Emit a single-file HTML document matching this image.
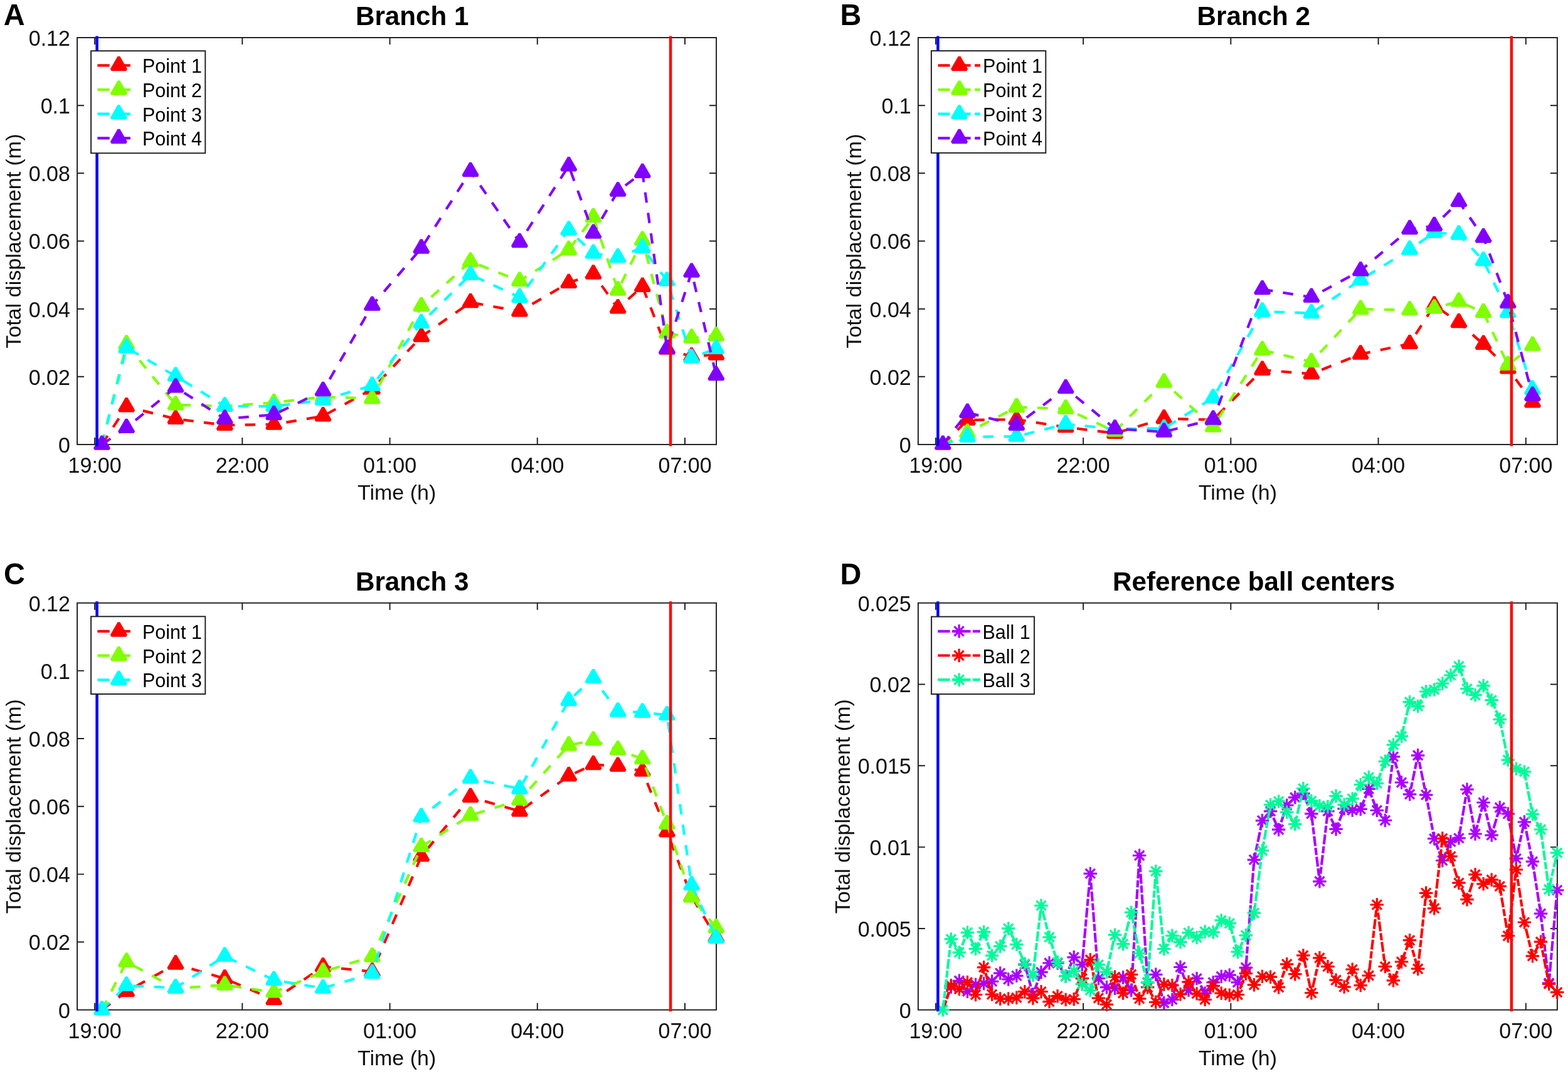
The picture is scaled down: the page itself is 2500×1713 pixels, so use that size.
<!DOCTYPE html>
<html lang="en"><head><meta charset="utf-8"><title>Total displacement of branch points and reference ball centers</title>
<style>html,body{margin:0;padding:0;background:#fff}body{width:2500px;height:1713px;overflow:hidden}svg{display:block}text{font-family:'Liberation Sans', sans-serif}</style>
</head><body>
<svg width="2500" height="1713" viewBox="0 0 2500 1713" role="img" aria-label="Total displacement over time for branch points and reference ball centers">
<rect width="2500" height="1713" fill="#fff"/>
<g id="panel-A">
<rect x="123.1" y="60" width="1019" height="649" fill="#fff" stroke="#202020" stroke-width="1.95"/>
<path d="M151.1 709v-11M151.1 60v11M386.33 709v-11M386.33 60v11M621.56 709v-11M621.56 60v11M856.79 709v-11M856.79 60v11M1092.02 709v-11M1092.02 60v11M123.1 600.83h11M1142.1 600.83h-11M123.1 492.67h11M1142.1 492.67h-11M123.1 384.5h11M1142.1 384.5h-11M123.1 276.33h11M1142.1 276.33h-11M123.1 168.17h11M1142.1 168.17h-11" stroke="#202020" stroke-width="1.95" fill="none"/>
<g font-size="34.0" fill="#111111">
<text transform="translate(151.1 754.2) scale(1 1.04)" text-anchor="middle">19:00</text>
<text transform="translate(386.33 754.2) scale(1 1.04)" text-anchor="middle">22:00</text>
<text transform="translate(621.56 754.2) scale(1 1.04)" text-anchor="middle">01:00</text>
<text transform="translate(856.79 754.2) scale(1 1.04)" text-anchor="middle">04:00</text>
<text transform="translate(1092.02 754.2) scale(1 1.04)" text-anchor="middle">07:00</text>
<text transform="translate(111.9 721.9) scale(1 1.04)" text-anchor="end">0</text>
<text transform="translate(111.9 613.73) scale(1 1.04)" text-anchor="end">0.02</text>
<text transform="translate(111.9 505.57) scale(1 1.04)" text-anchor="end">0.04</text>
<text transform="translate(111.9 397.4) scale(1 1.04)" text-anchor="end">0.06</text>
<text transform="translate(111.9 289.23) scale(1 1.04)" text-anchor="end">0.08</text>
<text transform="translate(111.9 181.07) scale(1 1.04)" text-anchor="end">0.1</text>
<text transform="translate(111.9 72.9) scale(1 1.04)" text-anchor="end">0.12</text>
<text transform="translate(632.6 797.4)" text-anchor="middle">Time (h)</text>
<text transform="translate(32.6 384.5) rotate(-90)" text-anchor="middle">Total displacement (m)</text>
</g>
<text transform="translate(657.2 40) scale(1 1.02)" text-anchor="middle" font-size="42.2" font-weight="bold" fill="#000">Branch 1</text>
<polyline points="162.5,709 201.67,648.6 280.02,668.1 358.37,678.1 436.72,677 515.07,663.6 593.41,620.6 671.76,536.9 750.11,482.3 828.46,496.6 906.81,451.2 945.98,436.9 985.15,491.6 1024.33,457.1 1063.5,557 1102.68,568.5 1141.85,565.8" fill="none" stroke="#ff0000" stroke-width="4.17" stroke-dasharray="16.6 16.4"/>
<path d="M201.67 635.1L213.37 655.35L189.97 655.35Z" fill="#ff0000" stroke="#ff0000" stroke-width="4.17" stroke-linejoin="bevel"/><path d="M280.02 654.6L291.72 674.85L268.32 674.85Z" fill="#ff0000" stroke="#ff0000" stroke-width="4.17" stroke-linejoin="bevel"/><path d="M358.37 664.6L370.07 684.85L346.67 684.85Z" fill="#ff0000" stroke="#ff0000" stroke-width="4.17" stroke-linejoin="bevel"/><path d="M436.72 663.5L448.42 683.75L425.02 683.75Z" fill="#ff0000" stroke="#ff0000" stroke-width="4.17" stroke-linejoin="bevel"/><path d="M515.07 650.1L526.77 670.35L503.37 670.35Z" fill="#ff0000" stroke="#ff0000" stroke-width="4.17" stroke-linejoin="bevel"/><path d="M593.41 607.1L605.11 627.35L581.71 627.35Z" fill="#ff0000" stroke="#ff0000" stroke-width="4.17" stroke-linejoin="bevel"/><path d="M671.76 523.4L683.46 543.65L660.06 543.65Z" fill="#ff0000" stroke="#ff0000" stroke-width="4.17" stroke-linejoin="bevel"/><path d="M750.11 468.8L761.81 489.05L738.41 489.05Z" fill="#ff0000" stroke="#ff0000" stroke-width="4.17" stroke-linejoin="bevel"/><path d="M828.46 483.1L840.16 503.35L816.76 503.35Z" fill="#ff0000" stroke="#ff0000" stroke-width="4.17" stroke-linejoin="bevel"/><path d="M906.81 437.7L918.51 457.95L895.11 457.95Z" fill="#ff0000" stroke="#ff0000" stroke-width="4.17" stroke-linejoin="bevel"/><path d="M945.98 423.4L957.68 443.65L934.28 443.65Z" fill="#ff0000" stroke="#ff0000" stroke-width="4.17" stroke-linejoin="bevel"/><path d="M985.15 478.1L996.85 498.35L973.45 498.35Z" fill="#ff0000" stroke="#ff0000" stroke-width="4.17" stroke-linejoin="bevel"/><path d="M1024.33 443.6L1036.03 463.85L1012.63 463.85Z" fill="#ff0000" stroke="#ff0000" stroke-width="4.17" stroke-linejoin="bevel"/><path d="M1063.5 543.5L1075.2 563.75L1051.8 563.75Z" fill="#ff0000" stroke="#ff0000" stroke-width="4.17" stroke-linejoin="bevel"/><path d="M1102.68 555L1114.38 575.25L1090.98 575.25Z" fill="#ff0000" stroke="#ff0000" stroke-width="4.17" stroke-linejoin="bevel"/><path d="M1141.85 552.3L1153.55 572.55L1130.15 572.55Z" fill="#ff0000" stroke="#ff0000" stroke-width="4.17" stroke-linejoin="bevel"/>
<polyline points="162.5,709 201.67,548.9 280.02,645.7 358.37,648 436.72,642.2 515.07,633 593.41,635.6 671.76,488.3 750.11,417.1 828.46,448.1 906.81,398.4 945.98,346.3 985.15,462.9 1024.33,383.1 1063.5,531.1 1102.68,538.9 1141.85,535.6" fill="none" stroke="#80ff00" stroke-width="4.17" stroke-dasharray="16.6 16.4"/>
<path d="M201.67 535.4L213.37 555.65L189.97 555.65Z" fill="#80ff00" stroke="#80ff00" stroke-width="4.17" stroke-linejoin="bevel"/><path d="M280.02 632.2L291.72 652.45L268.32 652.45Z" fill="#80ff00" stroke="#80ff00" stroke-width="4.17" stroke-linejoin="bevel"/><path d="M358.37 634.5L370.07 654.75L346.67 654.75Z" fill="#80ff00" stroke="#80ff00" stroke-width="4.17" stroke-linejoin="bevel"/><path d="M436.72 628.7L448.42 648.95L425.02 648.95Z" fill="#80ff00" stroke="#80ff00" stroke-width="4.17" stroke-linejoin="bevel"/><path d="M515.07 619.5L526.77 639.75L503.37 639.75Z" fill="#80ff00" stroke="#80ff00" stroke-width="4.17" stroke-linejoin="bevel"/><path d="M593.41 622.1L605.11 642.35L581.71 642.35Z" fill="#80ff00" stroke="#80ff00" stroke-width="4.17" stroke-linejoin="bevel"/><path d="M671.76 474.8L683.46 495.05L660.06 495.05Z" fill="#80ff00" stroke="#80ff00" stroke-width="4.17" stroke-linejoin="bevel"/><path d="M750.11 403.6L761.81 423.85L738.41 423.85Z" fill="#80ff00" stroke="#80ff00" stroke-width="4.17" stroke-linejoin="bevel"/><path d="M828.46 434.6L840.16 454.85L816.76 454.85Z" fill="#80ff00" stroke="#80ff00" stroke-width="4.17" stroke-linejoin="bevel"/><path d="M906.81 384.9L918.51 405.15L895.11 405.15Z" fill="#80ff00" stroke="#80ff00" stroke-width="4.17" stroke-linejoin="bevel"/><path d="M945.98 332.8L957.68 353.05L934.28 353.05Z" fill="#80ff00" stroke="#80ff00" stroke-width="4.17" stroke-linejoin="bevel"/><path d="M985.15 449.4L996.85 469.65L973.45 469.65Z" fill="#80ff00" stroke="#80ff00" stroke-width="4.17" stroke-linejoin="bevel"/><path d="M1024.33 369.6L1036.03 389.85L1012.63 389.85Z" fill="#80ff00" stroke="#80ff00" stroke-width="4.17" stroke-linejoin="bevel"/><path d="M1063.5 517.6L1075.2 537.85L1051.8 537.85Z" fill="#80ff00" stroke="#80ff00" stroke-width="4.17" stroke-linejoin="bevel"/><path d="M1102.68 525.4L1114.38 545.65L1090.98 545.65Z" fill="#80ff00" stroke="#80ff00" stroke-width="4.17" stroke-linejoin="bevel"/><path d="M1141.85 522.1L1153.55 542.35L1130.15 542.35Z" fill="#80ff00" stroke="#80ff00" stroke-width="4.17" stroke-linejoin="bevel"/>
<polyline points="162.5,709 201.67,554.6 280.02,599.8 358.37,647.9 436.72,648.2 515.07,637.9 593.41,615 671.76,515.1 750.11,438 828.46,474.3 906.81,366.8 945.98,404 985.15,410.5 1024.33,395 1063.5,447.7 1102.68,570.7 1141.85,556.1" fill="none" stroke="#00ffff" stroke-width="4.17" stroke-dasharray="16.6 16.4"/>
<path d="M201.67 541.1L213.37 561.35L189.97 561.35Z" fill="#00ffff" stroke="#00ffff" stroke-width="4.17" stroke-linejoin="bevel"/><path d="M280.02 586.3L291.72 606.55L268.32 606.55Z" fill="#00ffff" stroke="#00ffff" stroke-width="4.17" stroke-linejoin="bevel"/><path d="M358.37 634.4L370.07 654.65L346.67 654.65Z" fill="#00ffff" stroke="#00ffff" stroke-width="4.17" stroke-linejoin="bevel"/><path d="M436.72 634.7L448.42 654.95L425.02 654.95Z" fill="#00ffff" stroke="#00ffff" stroke-width="4.17" stroke-linejoin="bevel"/><path d="M515.07 624.4L526.77 644.65L503.37 644.65Z" fill="#00ffff" stroke="#00ffff" stroke-width="4.17" stroke-linejoin="bevel"/><path d="M593.41 601.5L605.11 621.75L581.71 621.75Z" fill="#00ffff" stroke="#00ffff" stroke-width="4.17" stroke-linejoin="bevel"/><path d="M671.76 501.6L683.46 521.85L660.06 521.85Z" fill="#00ffff" stroke="#00ffff" stroke-width="4.17" stroke-linejoin="bevel"/><path d="M750.11 424.5L761.81 444.75L738.41 444.75Z" fill="#00ffff" stroke="#00ffff" stroke-width="4.17" stroke-linejoin="bevel"/><path d="M828.46 460.8L840.16 481.05L816.76 481.05Z" fill="#00ffff" stroke="#00ffff" stroke-width="4.17" stroke-linejoin="bevel"/><path d="M906.81 353.3L918.51 373.55L895.11 373.55Z" fill="#00ffff" stroke="#00ffff" stroke-width="4.17" stroke-linejoin="bevel"/><path d="M945.98 390.5L957.68 410.75L934.28 410.75Z" fill="#00ffff" stroke="#00ffff" stroke-width="4.17" stroke-linejoin="bevel"/><path d="M985.15 397L996.85 417.25L973.45 417.25Z" fill="#00ffff" stroke="#00ffff" stroke-width="4.17" stroke-linejoin="bevel"/><path d="M1024.33 381.5L1036.03 401.75L1012.63 401.75Z" fill="#00ffff" stroke="#00ffff" stroke-width="4.17" stroke-linejoin="bevel"/><path d="M1063.5 434.2L1075.2 454.45L1051.8 454.45Z" fill="#00ffff" stroke="#00ffff" stroke-width="4.17" stroke-linejoin="bevel"/><path d="M1102.68 557.2L1114.38 577.45L1090.98 577.45Z" fill="#00ffff" stroke="#00ffff" stroke-width="4.17" stroke-linejoin="bevel"/><path d="M1141.85 542.6L1153.55 562.85L1130.15 562.85Z" fill="#00ffff" stroke="#00ffff" stroke-width="4.17" stroke-linejoin="bevel"/>
<polyline points="162.5,709 201.67,682.2 280.02,617.7 358.37,668.1 436.72,661.4 515.07,623.3 593.41,487 671.76,395.9 750.11,273.3 828.46,386.4 906.81,264.6 945.98,372 985.15,304.9 1024.33,275.3 1063.5,556.1 1102.68,434 1141.85,598.3" fill="none" stroke="#8000ff" stroke-width="4.17" stroke-dasharray="16.6 16.4"/>
<path d="M162.5 695.5L174.2 715.75L150.8 715.75Z" fill="#8000ff" stroke="#8000ff" stroke-width="4.17" stroke-linejoin="bevel"/><path d="M201.67 668.7L213.37 688.95L189.97 688.95Z" fill="#8000ff" stroke="#8000ff" stroke-width="4.17" stroke-linejoin="bevel"/><path d="M280.02 604.2L291.72 624.45L268.32 624.45Z" fill="#8000ff" stroke="#8000ff" stroke-width="4.17" stroke-linejoin="bevel"/><path d="M358.37 654.6L370.07 674.85L346.67 674.85Z" fill="#8000ff" stroke="#8000ff" stroke-width="4.17" stroke-linejoin="bevel"/><path d="M436.72 647.9L448.42 668.15L425.02 668.15Z" fill="#8000ff" stroke="#8000ff" stroke-width="4.17" stroke-linejoin="bevel"/><path d="M515.07 609.8L526.77 630.05L503.37 630.05Z" fill="#8000ff" stroke="#8000ff" stroke-width="4.17" stroke-linejoin="bevel"/><path d="M593.41 473.5L605.11 493.75L581.71 493.75Z" fill="#8000ff" stroke="#8000ff" stroke-width="4.17" stroke-linejoin="bevel"/><path d="M671.76 382.4L683.46 402.65L660.06 402.65Z" fill="#8000ff" stroke="#8000ff" stroke-width="4.17" stroke-linejoin="bevel"/><path d="M750.11 259.8L761.81 280.05L738.41 280.05Z" fill="#8000ff" stroke="#8000ff" stroke-width="4.17" stroke-linejoin="bevel"/><path d="M828.46 372.9L840.16 393.15L816.76 393.15Z" fill="#8000ff" stroke="#8000ff" stroke-width="4.17" stroke-linejoin="bevel"/><path d="M906.81 251.1L918.51 271.35L895.11 271.35Z" fill="#8000ff" stroke="#8000ff" stroke-width="4.17" stroke-linejoin="bevel"/><path d="M945.98 358.5L957.68 378.75L934.28 378.75Z" fill="#8000ff" stroke="#8000ff" stroke-width="4.17" stroke-linejoin="bevel"/><path d="M985.15 291.4L996.85 311.65L973.45 311.65Z" fill="#8000ff" stroke="#8000ff" stroke-width="4.17" stroke-linejoin="bevel"/><path d="M1024.33 261.8L1036.03 282.05L1012.63 282.05Z" fill="#8000ff" stroke="#8000ff" stroke-width="4.17" stroke-linejoin="bevel"/><path d="M1063.5 542.6L1075.2 562.85L1051.8 562.85Z" fill="#8000ff" stroke="#8000ff" stroke-width="4.17" stroke-linejoin="bevel"/><path d="M1102.68 420.5L1114.38 440.75L1090.98 440.75Z" fill="#8000ff" stroke="#8000ff" stroke-width="4.17" stroke-linejoin="bevel"/><path d="M1141.85 584.8L1153.55 605.05L1130.15 605.05Z" fill="#8000ff" stroke="#8000ff" stroke-width="4.17" stroke-linejoin="bevel"/>
<path d="M154.6 57.5V711.6" stroke="#0000ff" stroke-width="4.5" fill="none"/>
<path d="M1069.1 57.5V711.6" stroke="#ff0000" stroke-width="4.5" fill="none"/>
<rect x="145.1" y="81.2" width="182.2" height="163.1" fill="#fff" stroke="#202020" stroke-width="1.95"/>
<path d="M155.4 104.3H174.7M188.6 104.3H207.9" stroke="#ff0000" stroke-width="4.17" fill="none"/>
<path d="M189.4 90.8L201.1 111.05L177.7 111.05Z" fill="#ff0000" stroke="#ff0000" stroke-width="4.17" stroke-linejoin="bevel"/>
<text transform="translate(226.9 116.3)" font-size="30.5" fill="#000">Point 1</text>
<path d="M155.4 143H174.7M188.6 143H207.9" stroke="#80ff00" stroke-width="4.17" fill="none"/>
<path d="M189.4 129.5L201.1 149.75L177.7 149.75Z" fill="#80ff00" stroke="#80ff00" stroke-width="4.17" stroke-linejoin="bevel"/>
<text transform="translate(226.9 155)" font-size="30.5" fill="#000">Point 2</text>
<path d="M155.4 181.7H174.7M188.6 181.7H207.9" stroke="#00ffff" stroke-width="4.17" fill="none"/>
<path d="M189.4 168.2L201.1 188.45L177.7 188.45Z" fill="#00ffff" stroke="#00ffff" stroke-width="4.17" stroke-linejoin="bevel"/>
<text transform="translate(226.9 193.7)" font-size="30.5" fill="#000">Point 3</text>
<path d="M155.4 220.4H174.7M188.6 220.4H207.9" stroke="#8000ff" stroke-width="4.17" fill="none"/>
<path d="M189.4 206.9L201.1 227.15L177.7 227.15Z" fill="#8000ff" stroke="#8000ff" stroke-width="4.17" stroke-linejoin="bevel"/>
<text transform="translate(226.9 232.4)" font-size="30.5" fill="#000">Point 4</text>
<text transform="translate(5.7 39.8) scale(1 1.04)" font-size="46.9" font-weight="bold" fill="#000">A</text>
</g>
<g id="panel-B">
<rect x="1463.9" y="60" width="1019" height="649" fill="#fff" stroke="#202020" stroke-width="1.95"/>
<path d="M1491.9 709v-11M1491.9 60v11M1727.13 709v-11M1727.13 60v11M1962.36 709v-11M1962.36 60v11M2197.59 709v-11M2197.59 60v11M2432.82 709v-11M2432.82 60v11M1463.9 600.83h11M2482.9 600.83h-11M1463.9 492.67h11M2482.9 492.67h-11M1463.9 384.5h11M2482.9 384.5h-11M1463.9 276.33h11M2482.9 276.33h-11M1463.9 168.17h11M2482.9 168.17h-11" stroke="#202020" stroke-width="1.95" fill="none"/>
<g font-size="34.0" fill="#111111">
<text transform="translate(1491.9 754.2) scale(1 1.04)" text-anchor="middle">19:00</text>
<text transform="translate(1727.13 754.2) scale(1 1.04)" text-anchor="middle">22:00</text>
<text transform="translate(1962.36 754.2) scale(1 1.04)" text-anchor="middle">01:00</text>
<text transform="translate(2197.59 754.2) scale(1 1.04)" text-anchor="middle">04:00</text>
<text transform="translate(2432.82 754.2) scale(1 1.04)" text-anchor="middle">07:00</text>
<text transform="translate(1452.7 721.9) scale(1 1.04)" text-anchor="end">0</text>
<text transform="translate(1452.7 613.73) scale(1 1.04)" text-anchor="end">0.02</text>
<text transform="translate(1452.7 505.57) scale(1 1.04)" text-anchor="end">0.04</text>
<text transform="translate(1452.7 397.4) scale(1 1.04)" text-anchor="end">0.06</text>
<text transform="translate(1452.7 289.23) scale(1 1.04)" text-anchor="end">0.08</text>
<text transform="translate(1452.7 181.07) scale(1 1.04)" text-anchor="end">0.1</text>
<text transform="translate(1452.7 72.9) scale(1 1.04)" text-anchor="end">0.12</text>
<text transform="translate(1973.4 797.4)" text-anchor="middle">Time (h)</text>
<text transform="translate(1373.4 384.5) rotate(-90)" text-anchor="middle">Total displacement (m)</text>
</g>
<text transform="translate(1998.8 40) scale(1 1.02)" text-anchor="middle" font-size="42.2" font-weight="bold" fill="#000">Branch 2</text>
<polyline points="1503.3,709 1542.47,669.9 1620.82,669.1 1699.17,681.3 1777.52,691.1 1855.87,667.6 1934.21,669.6 2012.56,590.1 2090.91,596.3 2169.26,564.9 2247.61,548.2 2286.78,486.8 2325.95,514.3 2365.13,549.1 2404.3,587.6 2443.48,641.6" fill="none" stroke="#ff0000" stroke-width="4.17" stroke-dasharray="16.6 16.4"/>
<path d="M1542.47 656.4L1554.17 676.65L1530.77 676.65Z" fill="#ff0000" stroke="#ff0000" stroke-width="4.17" stroke-linejoin="bevel"/><path d="M1620.82 655.6L1632.52 675.85L1609.12 675.85Z" fill="#ff0000" stroke="#ff0000" stroke-width="4.17" stroke-linejoin="bevel"/><path d="M1699.17 667.8L1710.87 688.05L1687.47 688.05Z" fill="#ff0000" stroke="#ff0000" stroke-width="4.17" stroke-linejoin="bevel"/><path d="M1777.52 677.6L1789.22 697.85L1765.82 697.85Z" fill="#ff0000" stroke="#ff0000" stroke-width="4.17" stroke-linejoin="bevel"/><path d="M1855.87 654.1L1867.57 674.35L1844.17 674.35Z" fill="#ff0000" stroke="#ff0000" stroke-width="4.17" stroke-linejoin="bevel"/><path d="M1934.21 656.1L1945.91 676.35L1922.51 676.35Z" fill="#ff0000" stroke="#ff0000" stroke-width="4.17" stroke-linejoin="bevel"/><path d="M2012.56 576.6L2024.26 596.85L2000.86 596.85Z" fill="#ff0000" stroke="#ff0000" stroke-width="4.17" stroke-linejoin="bevel"/><path d="M2090.91 582.8L2102.61 603.05L2079.21 603.05Z" fill="#ff0000" stroke="#ff0000" stroke-width="4.17" stroke-linejoin="bevel"/><path d="M2169.26 551.4L2180.96 571.65L2157.56 571.65Z" fill="#ff0000" stroke="#ff0000" stroke-width="4.17" stroke-linejoin="bevel"/><path d="M2247.61 534.7L2259.31 554.95L2235.91 554.95Z" fill="#ff0000" stroke="#ff0000" stroke-width="4.17" stroke-linejoin="bevel"/><path d="M2286.78 473.3L2298.48 493.55L2275.08 493.55Z" fill="#ff0000" stroke="#ff0000" stroke-width="4.17" stroke-linejoin="bevel"/><path d="M2325.95 500.8L2337.65 521.05L2314.25 521.05Z" fill="#ff0000" stroke="#ff0000" stroke-width="4.17" stroke-linejoin="bevel"/><path d="M2365.13 535.6L2376.83 555.85L2353.43 555.85Z" fill="#ff0000" stroke="#ff0000" stroke-width="4.17" stroke-linejoin="bevel"/><path d="M2404.3 574.1L2416 594.35L2392.6 594.35Z" fill="#ff0000" stroke="#ff0000" stroke-width="4.17" stroke-linejoin="bevel"/><path d="M2443.48 628.1L2455.18 648.35L2431.78 648.35Z" fill="#ff0000" stroke="#ff0000" stroke-width="4.17" stroke-linejoin="bevel"/>
<polyline points="1503.3,709 1542.47,690 1620.82,649.4 1699.17,651.9 1777.52,687.9 1855.87,609.8 1934.21,680.7 2012.56,558.4 2090.91,577.2 2169.26,493.1 2247.61,494.5 2286.78,491.7 2325.95,480.7 2365.13,498.3 2404.3,582.2 2443.48,551" fill="none" stroke="#80ff00" stroke-width="4.17" stroke-dasharray="16.6 16.4"/>
<path d="M1542.47 676.5L1554.17 696.75L1530.77 696.75Z" fill="#80ff00" stroke="#80ff00" stroke-width="4.17" stroke-linejoin="bevel"/><path d="M1620.82 635.9L1632.52 656.15L1609.12 656.15Z" fill="#80ff00" stroke="#80ff00" stroke-width="4.17" stroke-linejoin="bevel"/><path d="M1699.17 638.4L1710.87 658.65L1687.47 658.65Z" fill="#80ff00" stroke="#80ff00" stroke-width="4.17" stroke-linejoin="bevel"/><path d="M1777.52 674.4L1789.22 694.65L1765.82 694.65Z" fill="#80ff00" stroke="#80ff00" stroke-width="4.17" stroke-linejoin="bevel"/><path d="M1855.87 596.3L1867.57 616.55L1844.17 616.55Z" fill="#80ff00" stroke="#80ff00" stroke-width="4.17" stroke-linejoin="bevel"/><path d="M1934.21 667.2L1945.91 687.45L1922.51 687.45Z" fill="#80ff00" stroke="#80ff00" stroke-width="4.17" stroke-linejoin="bevel"/><path d="M2012.56 544.9L2024.26 565.15L2000.86 565.15Z" fill="#80ff00" stroke="#80ff00" stroke-width="4.17" stroke-linejoin="bevel"/><path d="M2090.91 563.7L2102.61 583.95L2079.21 583.95Z" fill="#80ff00" stroke="#80ff00" stroke-width="4.17" stroke-linejoin="bevel"/><path d="M2169.26 479.6L2180.96 499.85L2157.56 499.85Z" fill="#80ff00" stroke="#80ff00" stroke-width="4.17" stroke-linejoin="bevel"/><path d="M2247.61 481L2259.31 501.25L2235.91 501.25Z" fill="#80ff00" stroke="#80ff00" stroke-width="4.17" stroke-linejoin="bevel"/><path d="M2286.78 478.2L2298.48 498.45L2275.08 498.45Z" fill="#80ff00" stroke="#80ff00" stroke-width="4.17" stroke-linejoin="bevel"/><path d="M2325.95 467.2L2337.65 487.45L2314.25 487.45Z" fill="#80ff00" stroke="#80ff00" stroke-width="4.17" stroke-linejoin="bevel"/><path d="M2365.13 484.8L2376.83 505.05L2353.43 505.05Z" fill="#80ff00" stroke="#80ff00" stroke-width="4.17" stroke-linejoin="bevel"/><path d="M2404.3 568.7L2416 588.95L2392.6 588.95Z" fill="#80ff00" stroke="#80ff00" stroke-width="4.17" stroke-linejoin="bevel"/><path d="M2443.48 537.5L2455.18 557.75L2431.78 557.75Z" fill="#80ff00" stroke="#80ff00" stroke-width="4.17" stroke-linejoin="bevel"/>
<polyline points="1503.3,709 1542.47,696.9 1620.82,696 1699.17,676.4 1777.52,684.1 1855.87,683.3 1934.21,634.6 2012.56,496.8 2090.91,499.5 2169.26,446.4 2247.61,398 2286.78,371 2325.95,373.9 2365.13,415.7 2404.3,498.3 2443.48,621.1" fill="none" stroke="#00ffff" stroke-width="4.17" stroke-dasharray="16.6 16.4"/>
<path d="M1542.47 683.4L1554.17 703.65L1530.77 703.65Z" fill="#00ffff" stroke="#00ffff" stroke-width="4.17" stroke-linejoin="bevel"/><path d="M1620.82 682.5L1632.52 702.75L1609.12 702.75Z" fill="#00ffff" stroke="#00ffff" stroke-width="4.17" stroke-linejoin="bevel"/><path d="M1699.17 662.9L1710.87 683.15L1687.47 683.15Z" fill="#00ffff" stroke="#00ffff" stroke-width="4.17" stroke-linejoin="bevel"/><path d="M1777.52 670.6L1789.22 690.85L1765.82 690.85Z" fill="#00ffff" stroke="#00ffff" stroke-width="4.17" stroke-linejoin="bevel"/><path d="M1855.87 669.8L1867.57 690.05L1844.17 690.05Z" fill="#00ffff" stroke="#00ffff" stroke-width="4.17" stroke-linejoin="bevel"/><path d="M1934.21 621.1L1945.91 641.35L1922.51 641.35Z" fill="#00ffff" stroke="#00ffff" stroke-width="4.17" stroke-linejoin="bevel"/><path d="M2012.56 483.3L2024.26 503.55L2000.86 503.55Z" fill="#00ffff" stroke="#00ffff" stroke-width="4.17" stroke-linejoin="bevel"/><path d="M2090.91 486L2102.61 506.25L2079.21 506.25Z" fill="#00ffff" stroke="#00ffff" stroke-width="4.17" stroke-linejoin="bevel"/><path d="M2169.26 432.9L2180.96 453.15L2157.56 453.15Z" fill="#00ffff" stroke="#00ffff" stroke-width="4.17" stroke-linejoin="bevel"/><path d="M2247.61 384.5L2259.31 404.75L2235.91 404.75Z" fill="#00ffff" stroke="#00ffff" stroke-width="4.17" stroke-linejoin="bevel"/><path d="M2286.78 357.5L2298.48 377.75L2275.08 377.75Z" fill="#00ffff" stroke="#00ffff" stroke-width="4.17" stroke-linejoin="bevel"/><path d="M2325.95 360.4L2337.65 380.65L2314.25 380.65Z" fill="#00ffff" stroke="#00ffff" stroke-width="4.17" stroke-linejoin="bevel"/><path d="M2365.13 402.2L2376.83 422.45L2353.43 422.45Z" fill="#00ffff" stroke="#00ffff" stroke-width="4.17" stroke-linejoin="bevel"/><path d="M2404.3 484.8L2416 505.05L2392.6 505.05Z" fill="#00ffff" stroke="#00ffff" stroke-width="4.17" stroke-linejoin="bevel"/><path d="M2443.48 607.6L2455.18 627.85L2431.78 627.85Z" fill="#00ffff" stroke="#00ffff" stroke-width="4.17" stroke-linejoin="bevel"/>
<polyline points="1503.3,709 1542.47,658.1 1620.82,678.1 1699.17,619.2 1777.52,683.8 1855.87,688.9 1934.21,668.8 2012.56,461.5 2090.91,474 2169.26,431.7 2247.61,365.4 2286.78,360.3 2325.95,321.5 2365.13,378.6 2404.3,483.2 2443.48,631.1" fill="none" stroke="#8000ff" stroke-width="4.17" stroke-dasharray="16.6 16.4"/>
<path d="M1503.3 695.5L1515 715.75L1491.6 715.75Z" fill="#8000ff" stroke="#8000ff" stroke-width="4.17" stroke-linejoin="bevel"/><path d="M1542.47 644.6L1554.17 664.85L1530.77 664.85Z" fill="#8000ff" stroke="#8000ff" stroke-width="4.17" stroke-linejoin="bevel"/><path d="M1620.82 664.6L1632.52 684.85L1609.12 684.85Z" fill="#8000ff" stroke="#8000ff" stroke-width="4.17" stroke-linejoin="bevel"/><path d="M1699.17 605.7L1710.87 625.95L1687.47 625.95Z" fill="#8000ff" stroke="#8000ff" stroke-width="4.17" stroke-linejoin="bevel"/><path d="M1777.52 670.3L1789.22 690.55L1765.82 690.55Z" fill="#8000ff" stroke="#8000ff" stroke-width="4.17" stroke-linejoin="bevel"/><path d="M1855.87 675.4L1867.57 695.65L1844.17 695.65Z" fill="#8000ff" stroke="#8000ff" stroke-width="4.17" stroke-linejoin="bevel"/><path d="M1934.21 655.3L1945.91 675.55L1922.51 675.55Z" fill="#8000ff" stroke="#8000ff" stroke-width="4.17" stroke-linejoin="bevel"/><path d="M2012.56 448L2024.26 468.25L2000.86 468.25Z" fill="#8000ff" stroke="#8000ff" stroke-width="4.17" stroke-linejoin="bevel"/><path d="M2090.91 460.5L2102.61 480.75L2079.21 480.75Z" fill="#8000ff" stroke="#8000ff" stroke-width="4.17" stroke-linejoin="bevel"/><path d="M2169.26 418.2L2180.96 438.45L2157.56 438.45Z" fill="#8000ff" stroke="#8000ff" stroke-width="4.17" stroke-linejoin="bevel"/><path d="M2247.61 351.9L2259.31 372.15L2235.91 372.15Z" fill="#8000ff" stroke="#8000ff" stroke-width="4.17" stroke-linejoin="bevel"/><path d="M2286.78 346.8L2298.48 367.05L2275.08 367.05Z" fill="#8000ff" stroke="#8000ff" stroke-width="4.17" stroke-linejoin="bevel"/><path d="M2325.95 308L2337.65 328.25L2314.25 328.25Z" fill="#8000ff" stroke="#8000ff" stroke-width="4.17" stroke-linejoin="bevel"/><path d="M2365.13 365.1L2376.83 385.35L2353.43 385.35Z" fill="#8000ff" stroke="#8000ff" stroke-width="4.17" stroke-linejoin="bevel"/><path d="M2404.3 469.7L2416 489.95L2392.6 489.95Z" fill="#8000ff" stroke="#8000ff" stroke-width="4.17" stroke-linejoin="bevel"/><path d="M2443.48 617.6L2455.18 637.85L2431.78 637.85Z" fill="#8000ff" stroke="#8000ff" stroke-width="4.17" stroke-linejoin="bevel"/>
<path d="M1495.4 57.5V711.6" stroke="#0000ff" stroke-width="4.5" fill="none"/>
<path d="M2409.9 57.5V711.6" stroke="#ff0000" stroke-width="4.5" fill="none"/>
<rect x="1484.9" y="81.1" width="182.4" height="162.8" fill="#fff" stroke="#202020" stroke-width="1.95"/>
<path d="M1495.6 104.3H1514.5M1528.8 104.3H1547.6M1554.2 104.3H1562.9" stroke="#ff0000" stroke-width="4.17" fill="none"/>
<path d="M1529.6 90.8L1541.3 111.05L1517.9 111.05Z" fill="#ff0000" stroke="#ff0000" stroke-width="4.17" stroke-linejoin="bevel"/>
<text transform="translate(1567.1 116.3)" font-size="30.5" fill="#000">Point 1</text>
<path d="M1495.6 143H1514.5M1528.8 143H1547.6M1554.2 143H1562.9" stroke="#80ff00" stroke-width="4.17" fill="none"/>
<path d="M1529.6 129.5L1541.3 149.75L1517.9 149.75Z" fill="#80ff00" stroke="#80ff00" stroke-width="4.17" stroke-linejoin="bevel"/>
<text transform="translate(1567.1 155)" font-size="30.5" fill="#000">Point 2</text>
<path d="M1495.6 181.7H1514.5M1528.8 181.7H1547.6M1554.2 181.7H1562.9" stroke="#00ffff" stroke-width="4.17" fill="none"/>
<path d="M1529.6 168.2L1541.3 188.45L1517.9 188.45Z" fill="#00ffff" stroke="#00ffff" stroke-width="4.17" stroke-linejoin="bevel"/>
<text transform="translate(1567.1 193.7)" font-size="30.5" fill="#000">Point 3</text>
<path d="M1495.6 220.4H1514.5M1528.8 220.4H1547.6M1554.2 220.4H1562.9" stroke="#8000ff" stroke-width="4.17" fill="none"/>
<path d="M1529.6 206.9L1541.3 227.15L1517.9 227.15Z" fill="#8000ff" stroke="#8000ff" stroke-width="4.17" stroke-linejoin="bevel"/>
<text transform="translate(1567.1 232.4)" font-size="30.5" fill="#000">Point 4</text>
<text transform="translate(1339.6 39.8) scale(1 1.04)" font-size="46.9" font-weight="bold" fill="#000">B</text>
</g>
<g id="panel-C">
<rect x="123.1" y="961.7" width="1019" height="649" fill="#fff" stroke="#202020" stroke-width="1.95"/>
<path d="M151.1 1610.7v-11M151.1 961.7v11M386.33 1610.7v-11M386.33 961.7v11M621.56 1610.7v-11M621.56 961.7v11M856.79 1610.7v-11M856.79 961.7v11M1092.02 1610.7v-11M1092.02 961.7v11M123.1 1502.53h11M1142.1 1502.53h-11M123.1 1394.37h11M1142.1 1394.37h-11M123.1 1286.2h11M1142.1 1286.2h-11M123.1 1178.03h11M1142.1 1178.03h-11M123.1 1069.87h11M1142.1 1069.87h-11" stroke="#202020" stroke-width="1.95" fill="none"/>
<g font-size="34.0" fill="#111111">
<text transform="translate(151.1 1655.9) scale(1 1.04)" text-anchor="middle">19:00</text>
<text transform="translate(386.33 1655.9) scale(1 1.04)" text-anchor="middle">22:00</text>
<text transform="translate(621.56 1655.9) scale(1 1.04)" text-anchor="middle">01:00</text>
<text transform="translate(856.79 1655.9) scale(1 1.04)" text-anchor="middle">04:00</text>
<text transform="translate(1092.02 1655.9) scale(1 1.04)" text-anchor="middle">07:00</text>
<text transform="translate(111.9 1623.6) scale(1 1.04)" text-anchor="end">0</text>
<text transform="translate(111.9 1515.43) scale(1 1.04)" text-anchor="end">0.02</text>
<text transform="translate(111.9 1407.27) scale(1 1.04)" text-anchor="end">0.04</text>
<text transform="translate(111.9 1299.1) scale(1 1.04)" text-anchor="end">0.06</text>
<text transform="translate(111.9 1190.93) scale(1 1.04)" text-anchor="end">0.08</text>
<text transform="translate(111.9 1082.77) scale(1 1.04)" text-anchor="end">0.1</text>
<text transform="translate(111.9 974.6) scale(1 1.04)" text-anchor="end">0.12</text>
<text transform="translate(632.6 1699.1)" text-anchor="middle">Time (h)</text>
<text transform="translate(32.6 1286.2) rotate(-90)" text-anchor="middle">Total displacement (m)</text>
</g>
<text transform="translate(657.2 941.7) scale(1 1.02)" text-anchor="middle" font-size="42.2" font-weight="bold" fill="#000">Branch 3</text>
<polyline points="162.5,1610.7 201.67,1581.5 280.02,1537.9 358.37,1560.8 436.72,1594.5 515.07,1541.8 593.41,1549.7 671.76,1365.6 750.11,1271.3 828.46,1293.9 906.81,1237.6 945.98,1219.5 985.15,1222.1 1024.33,1230 1063.5,1326.6 1102.68,1430.2 1141.85,1494.7" fill="none" stroke="#ff0000" stroke-width="4.17" stroke-dasharray="16.6 16.4"/>
<path d="M201.67 1568L213.37 1588.25L189.97 1588.25Z" fill="#ff0000" stroke="#ff0000" stroke-width="4.17" stroke-linejoin="bevel"/><path d="M280.02 1524.4L291.72 1544.65L268.32 1544.65Z" fill="#ff0000" stroke="#ff0000" stroke-width="4.17" stroke-linejoin="bevel"/><path d="M358.37 1547.3L370.07 1567.55L346.67 1567.55Z" fill="#ff0000" stroke="#ff0000" stroke-width="4.17" stroke-linejoin="bevel"/><path d="M436.72 1581L448.42 1601.25L425.02 1601.25Z" fill="#ff0000" stroke="#ff0000" stroke-width="4.17" stroke-linejoin="bevel"/><path d="M515.07 1528.3L526.77 1548.55L503.37 1548.55Z" fill="#ff0000" stroke="#ff0000" stroke-width="4.17" stroke-linejoin="bevel"/><path d="M593.41 1536.2L605.11 1556.45L581.71 1556.45Z" fill="#ff0000" stroke="#ff0000" stroke-width="4.17" stroke-linejoin="bevel"/><path d="M671.76 1352.1L683.46 1372.35L660.06 1372.35Z" fill="#ff0000" stroke="#ff0000" stroke-width="4.17" stroke-linejoin="bevel"/><path d="M750.11 1257.8L761.81 1278.05L738.41 1278.05Z" fill="#ff0000" stroke="#ff0000" stroke-width="4.17" stroke-linejoin="bevel"/><path d="M828.46 1280.4L840.16 1300.65L816.76 1300.65Z" fill="#ff0000" stroke="#ff0000" stroke-width="4.17" stroke-linejoin="bevel"/><path d="M906.81 1224.1L918.51 1244.35L895.11 1244.35Z" fill="#ff0000" stroke="#ff0000" stroke-width="4.17" stroke-linejoin="bevel"/><path d="M945.98 1206L957.68 1226.25L934.28 1226.25Z" fill="#ff0000" stroke="#ff0000" stroke-width="4.17" stroke-linejoin="bevel"/><path d="M985.15 1208.6L996.85 1228.85L973.45 1228.85Z" fill="#ff0000" stroke="#ff0000" stroke-width="4.17" stroke-linejoin="bevel"/><path d="M1024.33 1216.5L1036.03 1236.75L1012.63 1236.75Z" fill="#ff0000" stroke="#ff0000" stroke-width="4.17" stroke-linejoin="bevel"/><path d="M1063.5 1313.1L1075.2 1333.35L1051.8 1333.35Z" fill="#ff0000" stroke="#ff0000" stroke-width="4.17" stroke-linejoin="bevel"/><path d="M1102.68 1416.7L1114.38 1436.95L1090.98 1436.95Z" fill="#ff0000" stroke="#ff0000" stroke-width="4.17" stroke-linejoin="bevel"/><path d="M1141.85 1481.2L1153.55 1501.45L1130.15 1501.45Z" fill="#ff0000" stroke="#ff0000" stroke-width="4.17" stroke-linejoin="bevel"/>
<polyline points="162.5,1610.7 201.67,1534.1 280.02,1576.5 358.37,1571 436.72,1582.6 515.07,1549.8 593.41,1525.8 671.76,1350.5 750.11,1300.4 828.46,1276 906.81,1188.8 945.98,1180.7 985.15,1195.8 1024.33,1210.5 1063.5,1314.3 1102.68,1430.8 1141.85,1479.9" fill="none" stroke="#80ff00" stroke-width="4.17" stroke-dasharray="16.6 16.4"/>
<path d="M201.67 1520.6L213.37 1540.85L189.97 1540.85Z" fill="#80ff00" stroke="#80ff00" stroke-width="4.17" stroke-linejoin="bevel"/><path d="M280.02 1563L291.72 1583.25L268.32 1583.25Z" fill="#80ff00" stroke="#80ff00" stroke-width="4.17" stroke-linejoin="bevel"/><path d="M358.37 1557.5L370.07 1577.75L346.67 1577.75Z" fill="#80ff00" stroke="#80ff00" stroke-width="4.17" stroke-linejoin="bevel"/><path d="M436.72 1569.1L448.42 1589.35L425.02 1589.35Z" fill="#80ff00" stroke="#80ff00" stroke-width="4.17" stroke-linejoin="bevel"/><path d="M515.07 1536.3L526.77 1556.55L503.37 1556.55Z" fill="#80ff00" stroke="#80ff00" stroke-width="4.17" stroke-linejoin="bevel"/><path d="M593.41 1512.3L605.11 1532.55L581.71 1532.55Z" fill="#80ff00" stroke="#80ff00" stroke-width="4.17" stroke-linejoin="bevel"/><path d="M671.76 1337L683.46 1357.25L660.06 1357.25Z" fill="#80ff00" stroke="#80ff00" stroke-width="4.17" stroke-linejoin="bevel"/><path d="M750.11 1286.9L761.81 1307.15L738.41 1307.15Z" fill="#80ff00" stroke="#80ff00" stroke-width="4.17" stroke-linejoin="bevel"/><path d="M828.46 1262.5L840.16 1282.75L816.76 1282.75Z" fill="#80ff00" stroke="#80ff00" stroke-width="4.17" stroke-linejoin="bevel"/><path d="M906.81 1175.3L918.51 1195.55L895.11 1195.55Z" fill="#80ff00" stroke="#80ff00" stroke-width="4.17" stroke-linejoin="bevel"/><path d="M945.98 1167.2L957.68 1187.45L934.28 1187.45Z" fill="#80ff00" stroke="#80ff00" stroke-width="4.17" stroke-linejoin="bevel"/><path d="M985.15 1182.3L996.85 1202.55L973.45 1202.55Z" fill="#80ff00" stroke="#80ff00" stroke-width="4.17" stroke-linejoin="bevel"/><path d="M1024.33 1197L1036.03 1217.25L1012.63 1217.25Z" fill="#80ff00" stroke="#80ff00" stroke-width="4.17" stroke-linejoin="bevel"/><path d="M1063.5 1300.8L1075.2 1321.05L1051.8 1321.05Z" fill="#80ff00" stroke="#80ff00" stroke-width="4.17" stroke-linejoin="bevel"/><path d="M1102.68 1417.3L1114.38 1437.55L1090.98 1437.55Z" fill="#80ff00" stroke="#80ff00" stroke-width="4.17" stroke-linejoin="bevel"/><path d="M1141.85 1466.4L1153.55 1486.65L1130.15 1486.65Z" fill="#80ff00" stroke="#80ff00" stroke-width="4.17" stroke-linejoin="bevel"/>
<polyline points="162.5,1610.7 201.67,1572.1 280.02,1575.5 358.37,1525.1 436.72,1563.2 515.07,1576.2 593.41,1552.4 671.76,1303 750.11,1241.1 828.46,1258.1 906.81,1117.3 945.98,1081.5 985.15,1134.9 1024.33,1136.1 1063.5,1140.5 1102.68,1411.5 1141.85,1496.4" fill="none" stroke="#00ffff" stroke-width="4.17" stroke-dasharray="16.6 16.4"/>
<path d="M162.5 1597.2L174.2 1617.45L150.8 1617.45Z" fill="#00ffff" stroke="#00ffff" stroke-width="4.17" stroke-linejoin="bevel"/><path d="M201.67 1558.6L213.37 1578.85L189.97 1578.85Z" fill="#00ffff" stroke="#00ffff" stroke-width="4.17" stroke-linejoin="bevel"/><path d="M280.02 1562L291.72 1582.25L268.32 1582.25Z" fill="#00ffff" stroke="#00ffff" stroke-width="4.17" stroke-linejoin="bevel"/><path d="M358.37 1511.6L370.07 1531.85L346.67 1531.85Z" fill="#00ffff" stroke="#00ffff" stroke-width="4.17" stroke-linejoin="bevel"/><path d="M436.72 1549.7L448.42 1569.95L425.02 1569.95Z" fill="#00ffff" stroke="#00ffff" stroke-width="4.17" stroke-linejoin="bevel"/><path d="M515.07 1562.7L526.77 1582.95L503.37 1582.95Z" fill="#00ffff" stroke="#00ffff" stroke-width="4.17" stroke-linejoin="bevel"/><path d="M593.41 1538.9L605.11 1559.15L581.71 1559.15Z" fill="#00ffff" stroke="#00ffff" stroke-width="4.17" stroke-linejoin="bevel"/><path d="M671.76 1289.5L683.46 1309.75L660.06 1309.75Z" fill="#00ffff" stroke="#00ffff" stroke-width="4.17" stroke-linejoin="bevel"/><path d="M750.11 1227.6L761.81 1247.85L738.41 1247.85Z" fill="#00ffff" stroke="#00ffff" stroke-width="4.17" stroke-linejoin="bevel"/><path d="M828.46 1244.6L840.16 1264.85L816.76 1264.85Z" fill="#00ffff" stroke="#00ffff" stroke-width="4.17" stroke-linejoin="bevel"/><path d="M906.81 1103.8L918.51 1124.05L895.11 1124.05Z" fill="#00ffff" stroke="#00ffff" stroke-width="4.17" stroke-linejoin="bevel"/><path d="M945.98 1068L957.68 1088.25L934.28 1088.25Z" fill="#00ffff" stroke="#00ffff" stroke-width="4.17" stroke-linejoin="bevel"/><path d="M985.15 1121.4L996.85 1141.65L973.45 1141.65Z" fill="#00ffff" stroke="#00ffff" stroke-width="4.17" stroke-linejoin="bevel"/><path d="M1024.33 1122.6L1036.03 1142.85L1012.63 1142.85Z" fill="#00ffff" stroke="#00ffff" stroke-width="4.17" stroke-linejoin="bevel"/><path d="M1063.5 1127L1075.2 1147.25L1051.8 1147.25Z" fill="#00ffff" stroke="#00ffff" stroke-width="4.17" stroke-linejoin="bevel"/><path d="M1102.68 1398L1114.38 1418.25L1090.98 1418.25Z" fill="#00ffff" stroke="#00ffff" stroke-width="4.17" stroke-linejoin="bevel"/><path d="M1141.85 1482.9L1153.55 1503.15L1130.15 1503.15Z" fill="#00ffff" stroke="#00ffff" stroke-width="4.17" stroke-linejoin="bevel"/>
<path d="M154.6 959.2V1613.3" stroke="#0000ff" stroke-width="4.5" fill="none"/>
<path d="M1069.1 959.2V1613.3" stroke="#ff0000" stroke-width="4.5" fill="none"/>
<rect x="145.1" y="983.3" width="182.2" height="123.7" fill="#fff" stroke="#202020" stroke-width="1.95"/>
<path d="M155.4 1006.9H174.7M188.6 1006.9H207.9" stroke="#ff0000" stroke-width="4.17" fill="none"/>
<path d="M189.4 993.4L201.1 1013.65L177.7 1013.65Z" fill="#ff0000" stroke="#ff0000" stroke-width="4.17" stroke-linejoin="bevel"/>
<text transform="translate(226.9 1018.9)" font-size="30.5" fill="#000">Point 1</text>
<path d="M155.4 1045.6H174.7M188.6 1045.6H207.9" stroke="#80ff00" stroke-width="4.17" fill="none"/>
<path d="M189.4 1032.1L201.1 1052.35L177.7 1052.35Z" fill="#80ff00" stroke="#80ff00" stroke-width="4.17" stroke-linejoin="bevel"/>
<text transform="translate(226.9 1057.6)" font-size="30.5" fill="#000">Point 2</text>
<path d="M155.4 1084.3H174.7M188.6 1084.3H207.9" stroke="#00ffff" stroke-width="4.17" fill="none"/>
<path d="M189.4 1070.8L201.1 1091.05L177.7 1091.05Z" fill="#00ffff" stroke="#00ffff" stroke-width="4.17" stroke-linejoin="bevel"/>
<text transform="translate(226.9 1096.3)" font-size="30.5" fill="#000">Point 3</text>
<text transform="translate(5.9 931.8) scale(1 1.04)" font-size="46.9" font-weight="bold" fill="#000">C</text>
</g>
<g id="panel-D">
<rect x="1463.9" y="961.7" width="1019" height="649" fill="#fff" stroke="#202020" stroke-width="1.95"/>
<path d="M1491.9 1610.7v-11M1491.9 961.7v11M1727.13 1610.7v-11M1727.13 961.7v11M1962.36 1610.7v-11M1962.36 961.7v11M2197.59 1610.7v-11M2197.59 961.7v11M2432.82 1610.7v-11M2432.82 961.7v11M1463.9 1480.9h11M2482.9 1480.9h-11M1463.9 1351.1h11M2482.9 1351.1h-11M1463.9 1221.3h11M2482.9 1221.3h-11M1463.9 1091.5h11M2482.9 1091.5h-11" stroke="#202020" stroke-width="1.95" fill="none"/>
<g font-size="34.0" fill="#111111">
<text transform="translate(1491.9 1655.9) scale(1 1.04)" text-anchor="middle">19:00</text>
<text transform="translate(1727.13 1655.9) scale(1 1.04)" text-anchor="middle">22:00</text>
<text transform="translate(1962.36 1655.9) scale(1 1.04)" text-anchor="middle">01:00</text>
<text transform="translate(2197.59 1655.9) scale(1 1.04)" text-anchor="middle">04:00</text>
<text transform="translate(2432.82 1655.9) scale(1 1.04)" text-anchor="middle">07:00</text>
<text transform="translate(1452.7 1623.6) scale(1 1.04)" text-anchor="end">0</text>
<text transform="translate(1452.7 1493.8) scale(1 1.04)" text-anchor="end">0.005</text>
<text transform="translate(1452.7 1364) scale(1 1.04)" text-anchor="end">0.01</text>
<text transform="translate(1452.7 1234.2) scale(1 1.04)" text-anchor="end">0.015</text>
<text transform="translate(1452.7 1104.4) scale(1 1.04)" text-anchor="end">0.02</text>
<text transform="translate(1452.7 974.6) scale(1 1.04)" text-anchor="end">0.025</text>
<text transform="translate(1973.4 1699.1)" text-anchor="middle">Time (h)</text>
<text transform="translate(1354.9 1286.2) rotate(-90)" text-anchor="middle">Total displacement (m)</text>
</g>
<text transform="translate(1999.1 941.7) scale(1 1.02)" text-anchor="middle" font-size="42.2" font-weight="bold" fill="#000">Reference ball centers</text>
<polyline points="1503.3,1610.7 1516.36,1574 1529.42,1564.3 1542.47,1581.3 1555.53,1570.4 1568.59,1568.6 1581.65,1565.3 1594.71,1552.1 1607.76,1562 1620.82,1556.3 1633.88,1538.4 1646.94,1586 1660,1550.7 1673.05,1536 1686.11,1536 1699.17,1557 1712.23,1526.8 1725.29,1538.6 1738.34,1393.4 1751.4,1560.6 1764.46,1574.7 1777.52,1576.3 1790.58,1559 1803.63,1579.4 1816.69,1364.5 1829.75,1567 1842.81,1554.3 1855.87,1599.8 1868.92,1594.4 1881.98,1542.5 1895.04,1579.4 1908.1,1560.6 1921.16,1584.1 1934.21,1566.9 1947.27,1557.4 1960.33,1555.1 1973.39,1566.9 1986.45,1543.3 1999.5,1371.3 2012.56,1308.8 2025.62,1293.9 2038.68,1323.2 2051.74,1284.4 2064.79,1271.9 2077.85,1265.6 2090.91,1297.8 2103.97,1405.8 2117.03,1293.9 2130.08,1322.4 2143.14,1289.9 2156.2,1292.3 2169.26,1290.5 2182.32,1258.4 2195.37,1292.5 2208.43,1308.5 2221.49,1206.9 2234.55,1248 2247.61,1266.9 2260.66,1204.8 2273.72,1267.8 2286.78,1337.7 2299.84,1372.5 2312.9,1342.5 2325.95,1336.9 2339.01,1259.2 2352.07,1330 2365.13,1280 2378.19,1332.1 2391.24,1288 2404.3,1298 2417.36,1369.4 2430.42,1311 2443.48,1374.2 2456.53,1457.1 2469.59,1568 2482.65,1419.8" fill="none" stroke="#aa00ff" stroke-width="4.17" stroke-dasharray="15.8 2.9 11.4 2.9"/>
<path d="M1505.66 1574H1527.06M1516.36 1563.3V1584.7M1508.79 1566.43L1523.92 1581.57M1508.79 1581.57L1523.92 1566.43" stroke="#aa00ff" stroke-width="3.2" fill="none"/><path d="M1518.72 1564.3H1540.12M1529.42 1553.6V1575M1521.85 1556.73L1536.98 1571.87M1521.85 1571.87L1536.98 1556.73" stroke="#aa00ff" stroke-width="3.2" fill="none"/><path d="M1531.77 1581.3H1553.17M1542.47 1570.6V1592M1534.91 1573.73L1550.04 1588.87M1534.91 1588.87L1550.04 1573.73" stroke="#aa00ff" stroke-width="3.2" fill="none"/><path d="M1544.83 1570.4H1566.23M1555.53 1559.7V1581.1M1547.97 1562.83L1563.1 1577.97M1547.97 1577.97L1563.1 1562.83" stroke="#aa00ff" stroke-width="3.2" fill="none"/><path d="M1557.89 1568.6H1579.29M1568.59 1557.9V1579.3M1561.02 1561.03L1576.16 1576.17M1561.02 1576.17L1576.16 1561.03" stroke="#aa00ff" stroke-width="3.2" fill="none"/><path d="M1570.95 1565.3H1592.35M1581.65 1554.6V1576M1574.08 1557.73L1589.21 1572.87M1574.08 1572.87L1589.21 1557.73" stroke="#aa00ff" stroke-width="3.2" fill="none"/><path d="M1584.01 1552.1H1605.41M1594.71 1541.4V1562.8M1587.14 1544.53L1602.27 1559.67M1587.14 1559.67L1602.27 1544.53" stroke="#aa00ff" stroke-width="3.2" fill="none"/><path d="M1597.06 1562H1618.46M1607.76 1551.3V1572.7M1600.2 1554.43L1615.33 1569.57M1600.2 1569.57L1615.33 1554.43" stroke="#aa00ff" stroke-width="3.2" fill="none"/><path d="M1610.12 1556.3H1631.52M1620.82 1545.6V1567M1613.26 1548.73L1628.39 1563.87M1613.26 1563.87L1628.39 1548.73" stroke="#aa00ff" stroke-width="3.2" fill="none"/><path d="M1623.18 1538.4H1644.58M1633.88 1527.7V1549.1M1626.31 1530.83L1641.45 1545.97M1626.31 1545.97L1641.45 1530.83" stroke="#aa00ff" stroke-width="3.2" fill="none"/><path d="M1636.24 1586H1657.64M1646.94 1575.3V1596.7M1639.37 1578.43L1654.5 1593.57M1639.37 1593.57L1654.5 1578.43" stroke="#aa00ff" stroke-width="3.2" fill="none"/><path d="M1649.3 1550.7H1670.7M1660 1540V1561.4M1652.43 1543.13L1667.56 1558.27M1652.43 1558.27L1667.56 1543.13" stroke="#aa00ff" stroke-width="3.2" fill="none"/><path d="M1662.35 1536H1683.75M1673.05 1525.3V1546.7M1665.49 1528.43L1680.62 1543.57M1665.49 1543.57L1680.62 1528.43" stroke="#aa00ff" stroke-width="3.2" fill="none"/><path d="M1675.41 1536H1696.81M1686.11 1525.3V1546.7M1678.55 1528.43L1693.68 1543.57M1678.55 1543.57L1693.68 1528.43" stroke="#aa00ff" stroke-width="3.2" fill="none"/><path d="M1688.47 1557H1709.87M1699.17 1546.3V1567.7M1691.6 1549.43L1706.74 1564.57M1691.6 1564.57L1706.74 1549.43" stroke="#aa00ff" stroke-width="3.2" fill="none"/><path d="M1701.53 1526.8H1722.93M1712.23 1516.1V1537.5M1704.66 1519.23L1719.79 1534.37M1704.66 1534.37L1719.79 1519.23" stroke="#aa00ff" stroke-width="3.2" fill="none"/><path d="M1714.59 1538.6H1735.99M1725.29 1527.9V1549.3M1717.72 1531.03L1732.85 1546.17M1717.72 1546.17L1732.85 1531.03" stroke="#aa00ff" stroke-width="3.2" fill="none"/><path d="M1727.64 1393.4H1749.04M1738.34 1382.7V1404.1M1730.78 1385.83L1745.91 1400.97M1730.78 1400.97L1745.91 1385.83" stroke="#aa00ff" stroke-width="3.2" fill="none"/><path d="M1740.7 1560.6H1762.1M1751.4 1549.9V1571.3M1743.84 1553.03L1758.97 1568.17M1743.84 1568.17L1758.97 1553.03" stroke="#aa00ff" stroke-width="3.2" fill="none"/><path d="M1753.76 1574.7H1775.16M1764.46 1564V1585.4M1756.89 1567.13L1772.03 1582.27M1756.89 1582.27L1772.03 1567.13" stroke="#aa00ff" stroke-width="3.2" fill="none"/><path d="M1766.82 1576.3H1788.22M1777.52 1565.6V1587M1769.95 1568.73L1785.08 1583.87M1769.95 1583.87L1785.08 1568.73" stroke="#aa00ff" stroke-width="3.2" fill="none"/><path d="M1779.88 1559H1801.28M1790.58 1548.3V1569.7M1783.01 1551.43L1798.14 1566.57M1783.01 1566.57L1798.14 1551.43" stroke="#aa00ff" stroke-width="3.2" fill="none"/><path d="M1792.93 1579.4H1814.33M1803.63 1568.7V1590.1M1796.07 1571.83L1811.2 1586.97M1796.07 1586.97L1811.2 1571.83" stroke="#aa00ff" stroke-width="3.2" fill="none"/><path d="M1805.99 1364.5H1827.39M1816.69 1353.8V1375.2M1809.13 1356.93L1824.26 1372.07M1809.13 1372.07L1824.26 1356.93" stroke="#aa00ff" stroke-width="3.2" fill="none"/><path d="M1819.05 1567H1840.45M1829.75 1556.3V1577.7M1822.18 1559.43L1837.32 1574.57M1822.18 1574.57L1837.32 1559.43" stroke="#aa00ff" stroke-width="3.2" fill="none"/><path d="M1832.11 1554.3H1853.51M1842.81 1543.6V1565M1835.24 1546.73L1850.37 1561.87M1835.24 1561.87L1850.37 1546.73" stroke="#aa00ff" stroke-width="3.2" fill="none"/><path d="M1845.17 1599.8H1866.57M1855.87 1589.1V1610.5M1848.3 1592.23L1863.43 1607.37M1848.3 1607.37L1863.43 1592.23" stroke="#aa00ff" stroke-width="3.2" fill="none"/><path d="M1858.22 1594.4H1879.62M1868.92 1583.7V1605.1M1861.36 1586.83L1876.49 1601.97M1861.36 1601.97L1876.49 1586.83" stroke="#aa00ff" stroke-width="3.2" fill="none"/><path d="M1871.28 1542.5H1892.68M1881.98 1531.8V1553.2M1874.42 1534.93L1889.55 1550.07M1874.42 1550.07L1889.55 1534.93" stroke="#aa00ff" stroke-width="3.2" fill="none"/><path d="M1884.34 1579.4H1905.74M1895.04 1568.7V1590.1M1887.47 1571.83L1902.61 1586.97M1887.47 1586.97L1902.61 1571.83" stroke="#aa00ff" stroke-width="3.2" fill="none"/><path d="M1897.4 1560.6H1918.8M1908.1 1549.9V1571.3M1900.53 1553.03L1915.66 1568.17M1900.53 1568.17L1915.66 1553.03" stroke="#aa00ff" stroke-width="3.2" fill="none"/><path d="M1910.46 1584.1H1931.86M1921.16 1573.4V1594.8M1913.59 1576.53L1928.72 1591.67M1913.59 1591.67L1928.72 1576.53" stroke="#aa00ff" stroke-width="3.2" fill="none"/><path d="M1923.51 1566.9H1944.91M1934.21 1556.2V1577.6M1926.65 1559.33L1941.78 1574.47M1926.65 1574.47L1941.78 1559.33" stroke="#aa00ff" stroke-width="3.2" fill="none"/><path d="M1936.57 1557.4H1957.97M1947.27 1546.7V1568.1M1939.71 1549.83L1954.84 1564.97M1939.71 1564.97L1954.84 1549.83" stroke="#aa00ff" stroke-width="3.2" fill="none"/><path d="M1949.63 1555.1H1971.03M1960.33 1544.4V1565.8M1952.76 1547.53L1967.9 1562.67M1952.76 1562.67L1967.9 1547.53" stroke="#aa00ff" stroke-width="3.2" fill="none"/><path d="M1962.69 1566.9H1984.09M1973.39 1556.2V1577.6M1965.82 1559.33L1980.95 1574.47M1965.82 1574.47L1980.95 1559.33" stroke="#aa00ff" stroke-width="3.2" fill="none"/><path d="M1975.75 1543.3H1997.15M1986.45 1532.6V1554M1978.88 1535.73L1994.01 1550.87M1978.88 1550.87L1994.01 1535.73" stroke="#aa00ff" stroke-width="3.2" fill="none"/><path d="M1988.8 1371.3H2010.2M1999.5 1360.6V1382M1991.94 1363.73L2007.07 1378.87M1991.94 1378.87L2007.07 1363.73" stroke="#aa00ff" stroke-width="3.2" fill="none"/><path d="M2001.86 1308.8H2023.26M2012.56 1298.1V1319.5M2005 1301.23L2020.13 1316.37M2005 1316.37L2020.13 1301.23" stroke="#aa00ff" stroke-width="3.2" fill="none"/><path d="M2014.92 1293.9H2036.32M2025.62 1283.2V1304.6M2018.05 1286.33L2033.19 1301.47M2018.05 1301.47L2033.19 1286.33" stroke="#aa00ff" stroke-width="3.2" fill="none"/><path d="M2027.98 1323.2H2049.38M2038.68 1312.5V1333.9M2031.11 1315.63L2046.24 1330.77M2031.11 1330.77L2046.24 1315.63" stroke="#aa00ff" stroke-width="3.2" fill="none"/><path d="M2041.04 1284.4H2062.44M2051.74 1273.7V1295.1M2044.17 1276.83L2059.3 1291.97M2044.17 1291.97L2059.3 1276.83" stroke="#aa00ff" stroke-width="3.2" fill="none"/><path d="M2054.09 1271.9H2075.49M2064.79 1261.2V1282.6M2057.23 1264.33L2072.36 1279.47M2057.23 1279.47L2072.36 1264.33" stroke="#aa00ff" stroke-width="3.2" fill="none"/><path d="M2067.15 1265.6H2088.55M2077.85 1254.9V1276.3M2070.29 1258.03L2085.42 1273.17M2070.29 1273.17L2085.42 1258.03" stroke="#aa00ff" stroke-width="3.2" fill="none"/><path d="M2080.21 1297.8H2101.61M2090.91 1287.1V1308.5M2083.34 1290.23L2098.48 1305.37M2083.34 1305.37L2098.48 1290.23" stroke="#aa00ff" stroke-width="3.2" fill="none"/><path d="M2093.27 1405.8H2114.67M2103.97 1395.1V1416.5M2096.4 1398.23L2111.53 1413.37M2096.4 1413.37L2111.53 1398.23" stroke="#aa00ff" stroke-width="3.2" fill="none"/><path d="M2106.33 1293.9H2127.73M2117.03 1283.2V1304.6M2109.46 1286.33L2124.59 1301.47M2109.46 1301.47L2124.59 1286.33" stroke="#aa00ff" stroke-width="3.2" fill="none"/><path d="M2119.38 1322.4H2140.78M2130.08 1311.7V1333.1M2122.52 1314.83L2137.65 1329.97M2122.52 1329.97L2137.65 1314.83" stroke="#aa00ff" stroke-width="3.2" fill="none"/><path d="M2132.44 1289.9H2153.84M2143.14 1279.2V1300.6M2135.58 1282.33L2150.71 1297.47M2135.58 1297.47L2150.71 1282.33" stroke="#aa00ff" stroke-width="3.2" fill="none"/><path d="M2145.5 1292.3H2166.9M2156.2 1281.6V1303M2148.63 1284.73L2163.77 1299.87M2148.63 1299.87L2163.77 1284.73" stroke="#aa00ff" stroke-width="3.2" fill="none"/><path d="M2158.56 1290.5H2179.96M2169.26 1279.8V1301.2M2161.69 1282.93L2176.82 1298.07M2161.69 1298.07L2176.82 1282.93" stroke="#aa00ff" stroke-width="3.2" fill="none"/><path d="M2171.62 1258.4H2193.02M2182.32 1247.7V1269.1M2174.75 1250.83L2189.88 1265.97M2174.75 1265.97L2189.88 1250.83" stroke="#aa00ff" stroke-width="3.2" fill="none"/><path d="M2184.67 1292.5H2206.07M2195.37 1281.8V1303.2M2187.81 1284.93L2202.94 1300.07M2187.81 1300.07L2202.94 1284.93" stroke="#aa00ff" stroke-width="3.2" fill="none"/><path d="M2197.73 1308.5H2219.13M2208.43 1297.8V1319.2M2200.87 1300.93L2216 1316.07M2200.87 1316.07L2216 1300.93" stroke="#aa00ff" stroke-width="3.2" fill="none"/><path d="M2210.79 1206.9H2232.19M2221.49 1196.2V1217.6M2213.92 1199.33L2229.06 1214.47M2213.92 1214.47L2229.06 1199.33" stroke="#aa00ff" stroke-width="3.2" fill="none"/><path d="M2223.85 1248H2245.25M2234.55 1237.3V1258.7M2226.98 1240.43L2242.11 1255.57M2226.98 1255.57L2242.11 1240.43" stroke="#aa00ff" stroke-width="3.2" fill="none"/><path d="M2236.91 1266.9H2258.31M2247.61 1256.2V1277.6M2240.04 1259.33L2255.17 1274.47M2240.04 1274.47L2255.17 1259.33" stroke="#aa00ff" stroke-width="3.2" fill="none"/><path d="M2249.96 1204.8H2271.36M2260.66 1194.1V1215.5M2253.1 1197.23L2268.23 1212.37M2253.1 1212.37L2268.23 1197.23" stroke="#aa00ff" stroke-width="3.2" fill="none"/><path d="M2263.02 1267.8H2284.42M2273.72 1257.1V1278.5M2266.16 1260.23L2281.29 1275.37M2266.16 1275.37L2281.29 1260.23" stroke="#aa00ff" stroke-width="3.2" fill="none"/><path d="M2276.08 1337.7H2297.48M2286.78 1327V1348.4M2279.21 1330.13L2294.35 1345.27M2279.21 1345.27L2294.35 1330.13" stroke="#aa00ff" stroke-width="3.2" fill="none"/><path d="M2289.14 1372.5H2310.54M2299.84 1361.8V1383.2M2292.27 1364.93L2307.4 1380.07M2292.27 1380.07L2307.4 1364.93" stroke="#aa00ff" stroke-width="3.2" fill="none"/><path d="M2302.2 1342.5H2323.6M2312.9 1331.8V1353.2M2305.33 1334.93L2320.46 1350.07M2305.33 1350.07L2320.46 1334.93" stroke="#aa00ff" stroke-width="3.2" fill="none"/><path d="M2315.25 1336.9H2336.65M2325.95 1326.2V1347.6M2318.39 1329.33L2333.52 1344.47M2318.39 1344.47L2333.52 1329.33" stroke="#aa00ff" stroke-width="3.2" fill="none"/><path d="M2328.31 1259.2H2349.71M2339.01 1248.5V1269.9M2331.45 1251.63L2346.58 1266.77M2331.45 1266.77L2346.58 1251.63" stroke="#aa00ff" stroke-width="3.2" fill="none"/><path d="M2341.37 1330H2362.77M2352.07 1319.3V1340.7M2344.5 1322.43L2359.64 1337.57M2344.5 1337.57L2359.64 1322.43" stroke="#aa00ff" stroke-width="3.2" fill="none"/><path d="M2354.43 1280H2375.83M2365.13 1269.3V1290.7M2357.56 1272.43L2372.69 1287.57M2357.56 1287.57L2372.69 1272.43" stroke="#aa00ff" stroke-width="3.2" fill="none"/><path d="M2367.49 1332.1H2388.89M2378.19 1321.4V1342.8M2370.62 1324.53L2385.75 1339.67M2370.62 1339.67L2385.75 1324.53" stroke="#aa00ff" stroke-width="3.2" fill="none"/><path d="M2380.54 1288H2401.94M2391.24 1277.3V1298.7M2383.68 1280.43L2398.81 1295.57M2383.68 1295.57L2398.81 1280.43" stroke="#aa00ff" stroke-width="3.2" fill="none"/><path d="M2393.6 1298H2415M2404.3 1287.3V1308.7M2396.74 1290.43L2411.87 1305.57M2396.74 1305.57L2411.87 1290.43" stroke="#aa00ff" stroke-width="3.2" fill="none"/><path d="M2406.66 1369.4H2428.06M2417.36 1358.7V1380.1M2409.79 1361.83L2424.93 1376.97M2409.79 1376.97L2424.93 1361.83" stroke="#aa00ff" stroke-width="3.2" fill="none"/><path d="M2419.72 1311H2441.12M2430.42 1300.3V1321.7M2422.85 1303.43L2437.98 1318.57M2422.85 1318.57L2437.98 1303.43" stroke="#aa00ff" stroke-width="3.2" fill="none"/><path d="M2432.78 1374.2H2454.18M2443.48 1363.5V1384.9M2435.91 1366.63L2451.04 1381.77M2435.91 1381.77L2451.04 1366.63" stroke="#aa00ff" stroke-width="3.2" fill="none"/><path d="M2445.83 1457.1H2467.23M2456.53 1446.4V1467.8M2448.97 1449.53L2464.1 1464.67M2448.97 1464.67L2464.1 1449.53" stroke="#aa00ff" stroke-width="3.2" fill="none"/><path d="M2458.89 1568H2480.29M2469.59 1557.3V1578.7M2462.03 1560.43L2477.16 1575.57M2462.03 1575.57L2477.16 1560.43" stroke="#aa00ff" stroke-width="3.2" fill="none"/><path d="M2471.95 1419.8H2493.35M2482.65 1409.1V1430.5M2475.08 1412.23L2490.22 1427.37M2475.08 1427.37L2490.22 1412.23" stroke="#aa00ff" stroke-width="3.2" fill="none"/>
<polyline points="1503.3,1610.7 1516.36,1571.9 1529.42,1577.5 1542.47,1566.7 1555.53,1586.5 1568.59,1542.9 1581.65,1586 1594.71,1593 1607.76,1593 1620.82,1591.2 1633.88,1581.7 1646.94,1592.1 1660,1581.7 1673.05,1597.6 1686.11,1588.7 1699.17,1594.4 1712.23,1593.6 1725.29,1560.6 1738.34,1530.8 1751.4,1592 1764.46,1602.2 1777.52,1558.2 1790.58,1584.1 1803.63,1554.3 1816.69,1592.8 1829.75,1574.7 1842.81,1598.3 1855.87,1570 1868.92,1571.6 1881.98,1585.7 1895.04,1566.1 1908.1,1584.9 1921.16,1594.4 1934.21,1572.4 1947.27,1584.1 1960.33,1587.3 1973.39,1586.5 1986.45,1552.7 1999.5,1570.8 2012.56,1557.4 2025.62,1558.2 2038.68,1574.7 2051.74,1537.8 2064.79,1553.7 2077.85,1523.9 2090.91,1583.7 2103.97,1527.8 2117.03,1541.6 2130.08,1563.2 2143.14,1574.1 2156.2,1546.2 2169.26,1571.6 2182.32,1556 2195.37,1443 2208.43,1541.6 2221.49,1563.9 2234.55,1534 2247.61,1499.7 2260.66,1545.2 2273.72,1424.3 2286.78,1448.8 2299.84,1337.3 2312.9,1365.9 2325.95,1408.2 2339.01,1434.7 2352.07,1394.9 2365.13,1409.8 2378.19,1403.2 2391.24,1413.6 2404.3,1492.7 2417.36,1387 2430.42,1471 2443.48,1524.9 2456.53,1502.1 2469.59,1569.4 2482.65,1582.6" fill="none" stroke="#ff0000" stroke-width="4.17" stroke-dasharray="15.8 2.9 11.4 2.9"/>
<path d="M1505.66 1571.9H1527.06M1516.36 1561.2V1582.6M1508.79 1564.33L1523.92 1579.47M1508.79 1579.47L1523.92 1564.33" stroke="#ff0000" stroke-width="3.2" fill="none"/><path d="M1518.72 1577.5H1540.12M1529.42 1566.8V1588.2M1521.85 1569.93L1536.98 1585.07M1521.85 1585.07L1536.98 1569.93" stroke="#ff0000" stroke-width="3.2" fill="none"/><path d="M1531.77 1566.7H1553.17M1542.47 1556V1577.4M1534.91 1559.13L1550.04 1574.27M1534.91 1574.27L1550.04 1559.13" stroke="#ff0000" stroke-width="3.2" fill="none"/><path d="M1544.83 1586.5H1566.23M1555.53 1575.8V1597.2M1547.97 1578.93L1563.1 1594.07M1547.97 1594.07L1563.1 1578.93" stroke="#ff0000" stroke-width="3.2" fill="none"/><path d="M1557.89 1542.9H1579.29M1568.59 1532.2V1553.6M1561.02 1535.33L1576.16 1550.47M1561.02 1550.47L1576.16 1535.33" stroke="#ff0000" stroke-width="3.2" fill="none"/><path d="M1570.95 1586H1592.35M1581.65 1575.3V1596.7M1574.08 1578.43L1589.21 1593.57M1574.08 1593.57L1589.21 1578.43" stroke="#ff0000" stroke-width="3.2" fill="none"/><path d="M1584.01 1593H1605.41M1594.71 1582.3V1603.7M1587.14 1585.43L1602.27 1600.57M1587.14 1600.57L1602.27 1585.43" stroke="#ff0000" stroke-width="3.2" fill="none"/><path d="M1597.06 1593H1618.46M1607.76 1582.3V1603.7M1600.2 1585.43L1615.33 1600.57M1600.2 1600.57L1615.33 1585.43" stroke="#ff0000" stroke-width="3.2" fill="none"/><path d="M1610.12 1591.2H1631.52M1620.82 1580.5V1601.9M1613.26 1583.63L1628.39 1598.77M1613.26 1598.77L1628.39 1583.63" stroke="#ff0000" stroke-width="3.2" fill="none"/><path d="M1623.18 1581.7H1644.58M1633.88 1571V1592.4M1626.31 1574.13L1641.45 1589.27M1626.31 1589.27L1641.45 1574.13" stroke="#ff0000" stroke-width="3.2" fill="none"/><path d="M1636.24 1592.1H1657.64M1646.94 1581.4V1602.8M1639.37 1584.53L1654.5 1599.67M1639.37 1599.67L1654.5 1584.53" stroke="#ff0000" stroke-width="3.2" fill="none"/><path d="M1649.3 1581.7H1670.7M1660 1571V1592.4M1652.43 1574.13L1667.56 1589.27M1652.43 1589.27L1667.56 1574.13" stroke="#ff0000" stroke-width="3.2" fill="none"/><path d="M1662.35 1597.6H1683.75M1673.05 1586.9V1608.3M1665.49 1590.03L1680.62 1605.17M1665.49 1605.17L1680.62 1590.03" stroke="#ff0000" stroke-width="3.2" fill="none"/><path d="M1675.41 1588.7H1696.81M1686.11 1578V1599.4M1678.55 1581.13L1693.68 1596.27M1678.55 1596.27L1693.68 1581.13" stroke="#ff0000" stroke-width="3.2" fill="none"/><path d="M1688.47 1594.4H1709.87M1699.17 1583.7V1605.1M1691.6 1586.83L1706.74 1601.97M1691.6 1601.97L1706.74 1586.83" stroke="#ff0000" stroke-width="3.2" fill="none"/><path d="M1701.53 1593.6H1722.93M1712.23 1582.9V1604.3M1704.66 1586.03L1719.79 1601.17M1704.66 1601.17L1719.79 1586.03" stroke="#ff0000" stroke-width="3.2" fill="none"/><path d="M1714.59 1560.6H1735.99M1725.29 1549.9V1571.3M1717.72 1553.03L1732.85 1568.17M1717.72 1568.17L1732.85 1553.03" stroke="#ff0000" stroke-width="3.2" fill="none"/><path d="M1727.64 1530.8H1749.04M1738.34 1520.1V1541.5M1730.78 1523.23L1745.91 1538.37M1730.78 1538.37L1745.91 1523.23" stroke="#ff0000" stroke-width="3.2" fill="none"/><path d="M1740.7 1592H1762.1M1751.4 1581.3V1602.7M1743.84 1584.43L1758.97 1599.57M1743.84 1599.57L1758.97 1584.43" stroke="#ff0000" stroke-width="3.2" fill="none"/><path d="M1753.76 1602.2H1775.16M1764.46 1591.5V1612.9M1756.89 1594.63L1772.03 1609.77M1756.89 1609.77L1772.03 1594.63" stroke="#ff0000" stroke-width="3.2" fill="none"/><path d="M1766.82 1558.2H1788.22M1777.52 1547.5V1568.9M1769.95 1550.63L1785.08 1565.77M1769.95 1565.77L1785.08 1550.63" stroke="#ff0000" stroke-width="3.2" fill="none"/><path d="M1779.88 1584.1H1801.28M1790.58 1573.4V1594.8M1783.01 1576.53L1798.14 1591.67M1783.01 1591.67L1798.14 1576.53" stroke="#ff0000" stroke-width="3.2" fill="none"/><path d="M1792.93 1554.3H1814.33M1803.63 1543.6V1565M1796.07 1546.73L1811.2 1561.87M1796.07 1561.87L1811.2 1546.73" stroke="#ff0000" stroke-width="3.2" fill="none"/><path d="M1805.99 1592.8H1827.39M1816.69 1582.1V1603.5M1809.13 1585.23L1824.26 1600.37M1809.13 1600.37L1824.26 1585.23" stroke="#ff0000" stroke-width="3.2" fill="none"/><path d="M1819.05 1574.7H1840.45M1829.75 1564V1585.4M1822.18 1567.13L1837.32 1582.27M1822.18 1582.27L1837.32 1567.13" stroke="#ff0000" stroke-width="3.2" fill="none"/><path d="M1832.11 1598.3H1853.51M1842.81 1587.6V1609M1835.24 1590.73L1850.37 1605.87M1835.24 1605.87L1850.37 1590.73" stroke="#ff0000" stroke-width="3.2" fill="none"/><path d="M1845.17 1570H1866.57M1855.87 1559.3V1580.7M1848.3 1562.43L1863.43 1577.57M1848.3 1577.57L1863.43 1562.43" stroke="#ff0000" stroke-width="3.2" fill="none"/><path d="M1858.22 1571.6H1879.62M1868.92 1560.9V1582.3M1861.36 1564.03L1876.49 1579.17M1861.36 1579.17L1876.49 1564.03" stroke="#ff0000" stroke-width="3.2" fill="none"/><path d="M1871.28 1585.7H1892.68M1881.98 1575V1596.4M1874.42 1578.13L1889.55 1593.27M1874.42 1593.27L1889.55 1578.13" stroke="#ff0000" stroke-width="3.2" fill="none"/><path d="M1884.34 1566.1H1905.74M1895.04 1555.4V1576.8M1887.47 1558.53L1902.61 1573.67M1887.47 1573.67L1902.61 1558.53" stroke="#ff0000" stroke-width="3.2" fill="none"/><path d="M1897.4 1584.9H1918.8M1908.1 1574.2V1595.6M1900.53 1577.33L1915.66 1592.47M1900.53 1592.47L1915.66 1577.33" stroke="#ff0000" stroke-width="3.2" fill="none"/><path d="M1910.46 1594.4H1931.86M1921.16 1583.7V1605.1M1913.59 1586.83L1928.72 1601.97M1913.59 1601.97L1928.72 1586.83" stroke="#ff0000" stroke-width="3.2" fill="none"/><path d="M1923.51 1572.4H1944.91M1934.21 1561.7V1583.1M1926.65 1564.83L1941.78 1579.97M1926.65 1579.97L1941.78 1564.83" stroke="#ff0000" stroke-width="3.2" fill="none"/><path d="M1936.57 1584.1H1957.97M1947.27 1573.4V1594.8M1939.71 1576.53L1954.84 1591.67M1939.71 1591.67L1954.84 1576.53" stroke="#ff0000" stroke-width="3.2" fill="none"/><path d="M1949.63 1587.3H1971.03M1960.33 1576.6V1598M1952.76 1579.73L1967.9 1594.87M1952.76 1594.87L1967.9 1579.73" stroke="#ff0000" stroke-width="3.2" fill="none"/><path d="M1962.69 1586.5H1984.09M1973.39 1575.8V1597.2M1965.82 1578.93L1980.95 1594.07M1965.82 1594.07L1980.95 1578.93" stroke="#ff0000" stroke-width="3.2" fill="none"/><path d="M1975.75 1552.7H1997.15M1986.45 1542V1563.4M1978.88 1545.13L1994.01 1560.27M1978.88 1560.27L1994.01 1545.13" stroke="#ff0000" stroke-width="3.2" fill="none"/><path d="M1988.8 1570.8H2010.2M1999.5 1560.1V1581.5M1991.94 1563.23L2007.07 1578.37M1991.94 1578.37L2007.07 1563.23" stroke="#ff0000" stroke-width="3.2" fill="none"/><path d="M2001.86 1557.4H2023.26M2012.56 1546.7V1568.1M2005 1549.83L2020.13 1564.97M2005 1564.97L2020.13 1549.83" stroke="#ff0000" stroke-width="3.2" fill="none"/><path d="M2014.92 1558.2H2036.32M2025.62 1547.5V1568.9M2018.05 1550.63L2033.19 1565.77M2018.05 1565.77L2033.19 1550.63" stroke="#ff0000" stroke-width="3.2" fill="none"/><path d="M2027.98 1574.7H2049.38M2038.68 1564V1585.4M2031.11 1567.13L2046.24 1582.27M2031.11 1582.27L2046.24 1567.13" stroke="#ff0000" stroke-width="3.2" fill="none"/><path d="M2041.04 1537.8H2062.44M2051.74 1527.1V1548.5M2044.17 1530.23L2059.3 1545.37M2044.17 1545.37L2059.3 1530.23" stroke="#ff0000" stroke-width="3.2" fill="none"/><path d="M2054.09 1553.7H2075.49M2064.79 1543V1564.4M2057.23 1546.13L2072.36 1561.27M2057.23 1561.27L2072.36 1546.13" stroke="#ff0000" stroke-width="3.2" fill="none"/><path d="M2067.15 1523.9H2088.55M2077.85 1513.2V1534.6M2070.29 1516.33L2085.42 1531.47M2070.29 1531.47L2085.42 1516.33" stroke="#ff0000" stroke-width="3.2" fill="none"/><path d="M2080.21 1583.7H2101.61M2090.91 1573V1594.4M2083.34 1576.13L2098.48 1591.27M2083.34 1591.27L2098.48 1576.13" stroke="#ff0000" stroke-width="3.2" fill="none"/><path d="M2093.27 1527.8H2114.67M2103.97 1517.1V1538.5M2096.4 1520.23L2111.53 1535.37M2096.4 1535.37L2111.53 1520.23" stroke="#ff0000" stroke-width="3.2" fill="none"/><path d="M2106.33 1541.6H2127.73M2117.03 1530.9V1552.3M2109.46 1534.03L2124.59 1549.17M2109.46 1549.17L2124.59 1534.03" stroke="#ff0000" stroke-width="3.2" fill="none"/><path d="M2119.38 1563.2H2140.78M2130.08 1552.5V1573.9M2122.52 1555.63L2137.65 1570.77M2122.52 1570.77L2137.65 1555.63" stroke="#ff0000" stroke-width="3.2" fill="none"/><path d="M2132.44 1574.1H2153.84M2143.14 1563.4V1584.8M2135.58 1566.53L2150.71 1581.67M2135.58 1581.67L2150.71 1566.53" stroke="#ff0000" stroke-width="3.2" fill="none"/><path d="M2145.5 1546.2H2166.9M2156.2 1535.5V1556.9M2148.63 1538.63L2163.77 1553.77M2148.63 1553.77L2163.77 1538.63" stroke="#ff0000" stroke-width="3.2" fill="none"/><path d="M2158.56 1571.6H2179.96M2169.26 1560.9V1582.3M2161.69 1564.03L2176.82 1579.17M2161.69 1579.17L2176.82 1564.03" stroke="#ff0000" stroke-width="3.2" fill="none"/><path d="M2171.62 1556H2193.02M2182.32 1545.3V1566.7M2174.75 1548.43L2189.88 1563.57M2174.75 1563.57L2189.88 1548.43" stroke="#ff0000" stroke-width="3.2" fill="none"/><path d="M2184.67 1443H2206.07M2195.37 1432.3V1453.7M2187.81 1435.43L2202.94 1450.57M2187.81 1450.57L2202.94 1435.43" stroke="#ff0000" stroke-width="3.2" fill="none"/><path d="M2197.73 1541.6H2219.13M2208.43 1530.9V1552.3M2200.87 1534.03L2216 1549.17M2200.87 1549.17L2216 1534.03" stroke="#ff0000" stroke-width="3.2" fill="none"/><path d="M2210.79 1563.9H2232.19M2221.49 1553.2V1574.6M2213.92 1556.33L2229.06 1571.47M2213.92 1571.47L2229.06 1556.33" stroke="#ff0000" stroke-width="3.2" fill="none"/><path d="M2223.85 1534H2245.25M2234.55 1523.3V1544.7M2226.98 1526.43L2242.11 1541.57M2226.98 1541.57L2242.11 1526.43" stroke="#ff0000" stroke-width="3.2" fill="none"/><path d="M2236.91 1499.7H2258.31M2247.61 1489V1510.4M2240.04 1492.13L2255.17 1507.27M2240.04 1507.27L2255.17 1492.13" stroke="#ff0000" stroke-width="3.2" fill="none"/><path d="M2249.96 1545.2H2271.36M2260.66 1534.5V1555.9M2253.1 1537.63L2268.23 1552.77M2253.1 1552.77L2268.23 1537.63" stroke="#ff0000" stroke-width="3.2" fill="none"/><path d="M2263.02 1424.3H2284.42M2273.72 1413.6V1435M2266.16 1416.73L2281.29 1431.87M2266.16 1431.87L2281.29 1416.73" stroke="#ff0000" stroke-width="3.2" fill="none"/><path d="M2276.08 1448.8H2297.48M2286.78 1438.1V1459.5M2279.21 1441.23L2294.35 1456.37M2279.21 1456.37L2294.35 1441.23" stroke="#ff0000" stroke-width="3.2" fill="none"/><path d="M2289.14 1337.3H2310.54M2299.84 1326.6V1348M2292.27 1329.73L2307.4 1344.87M2292.27 1344.87L2307.4 1329.73" stroke="#ff0000" stroke-width="3.2" fill="none"/><path d="M2302.2 1365.9H2323.6M2312.9 1355.2V1376.6M2305.33 1358.33L2320.46 1373.47M2305.33 1373.47L2320.46 1358.33" stroke="#ff0000" stroke-width="3.2" fill="none"/><path d="M2315.25 1408.2H2336.65M2325.95 1397.5V1418.9M2318.39 1400.63L2333.52 1415.77M2318.39 1415.77L2333.52 1400.63" stroke="#ff0000" stroke-width="3.2" fill="none"/><path d="M2328.31 1434.7H2349.71M2339.01 1424V1445.4M2331.45 1427.13L2346.58 1442.27M2331.45 1442.27L2346.58 1427.13" stroke="#ff0000" stroke-width="3.2" fill="none"/><path d="M2341.37 1394.9H2362.77M2352.07 1384.2V1405.6M2344.5 1387.33L2359.64 1402.47M2344.5 1402.47L2359.64 1387.33" stroke="#ff0000" stroke-width="3.2" fill="none"/><path d="M2354.43 1409.8H2375.83M2365.13 1399.1V1420.5M2357.56 1402.23L2372.69 1417.37M2357.56 1417.37L2372.69 1402.23" stroke="#ff0000" stroke-width="3.2" fill="none"/><path d="M2367.49 1403.2H2388.89M2378.19 1392.5V1413.9M2370.62 1395.63L2385.75 1410.77M2370.62 1410.77L2385.75 1395.63" stroke="#ff0000" stroke-width="3.2" fill="none"/><path d="M2380.54 1413.6H2401.94M2391.24 1402.9V1424.3M2383.68 1406.03L2398.81 1421.17M2383.68 1421.17L2398.81 1406.03" stroke="#ff0000" stroke-width="3.2" fill="none"/><path d="M2393.6 1492.7H2415M2404.3 1482V1503.4M2396.74 1485.13L2411.87 1500.27M2396.74 1500.27L2411.87 1485.13" stroke="#ff0000" stroke-width="3.2" fill="none"/><path d="M2406.66 1387H2428.06M2417.36 1376.3V1397.7M2409.79 1379.43L2424.93 1394.57M2409.79 1394.57L2424.93 1379.43" stroke="#ff0000" stroke-width="3.2" fill="none"/><path d="M2419.72 1471H2441.12M2430.42 1460.3V1481.7M2422.85 1463.43L2437.98 1478.57M2422.85 1478.57L2437.98 1463.43" stroke="#ff0000" stroke-width="3.2" fill="none"/><path d="M2432.78 1524.9H2454.18M2443.48 1514.2V1535.6M2435.91 1517.33L2451.04 1532.47M2435.91 1532.47L2451.04 1517.33" stroke="#ff0000" stroke-width="3.2" fill="none"/><path d="M2445.83 1502.1H2467.23M2456.53 1491.4V1512.8M2448.97 1494.53L2464.1 1509.67M2448.97 1509.67L2464.1 1494.53" stroke="#ff0000" stroke-width="3.2" fill="none"/><path d="M2458.89 1569.4H2480.29M2469.59 1558.7V1580.1M2462.03 1561.83L2477.16 1576.97M2462.03 1576.97L2477.16 1561.83" stroke="#ff0000" stroke-width="3.2" fill="none"/><path d="M2471.95 1582.6H2493.35M2482.65 1571.9V1593.3M2475.08 1575.03L2490.22 1590.17M2475.08 1590.17L2490.22 1575.03" stroke="#ff0000" stroke-width="3.2" fill="none"/>
<polyline points="1503.3,1610.7 1516.36,1497.9 1529.42,1519.1 1542.47,1487.3 1555.53,1513.4 1568.59,1486.4 1581.65,1524.1 1594.71,1509.2 1607.76,1480.9 1620.82,1506.4 1633.88,1537.3 1646.94,1555.4 1660,1444.3 1673.05,1494.8 1686.11,1534.7 1699.17,1557.4 1712.23,1548.8 1725.29,1569.7 1738.34,1579.4 1751.4,1538.6 1764.46,1550.4 1777.52,1491.2 1790.58,1505.6 1803.63,1455.1 1816.69,1520.5 1829.75,1567.7 1842.81,1389.6 1855.87,1513.5 1868.92,1492.3 1881.98,1502.5 1895.04,1487.6 1908.1,1495.4 1921.16,1486 1934.21,1486.8 1947.27,1467.9 1960.33,1472.7 1973.39,1518.2 1986.45,1491.8 1999.5,1456.2 2012.56,1356.7 2025.62,1283.6 2038.68,1278.1 2051.74,1295.4 2064.79,1314.3 2077.85,1257.7 2090.91,1277.4 2103.97,1285.2 2117.03,1286.8 2130.08,1269.5 2143.14,1283.6 2156.2,1273.9 2169.26,1251.5 2182.32,1239.8 2195.37,1249.4 2208.43,1214.3 2221.49,1188 2234.55,1174.2 2247.61,1119.6 2260.66,1126.3 2273.72,1103 2286.78,1100 2299.84,1090 2312.9,1077 2325.95,1062.8 2339.01,1098.7 2352.07,1108.7 2365.13,1093.7 2378.19,1116.7 2391.24,1147.3 2404.3,1212.1 2417.36,1226.1 2430.42,1230.9 2443.48,1298.5 2456.53,1323 2469.59,1418.5 2482.65,1360.1" fill="none" stroke="#00fa9a" stroke-width="4.17" stroke-dasharray="15.8 2.9 11.4 2.9"/>
<path d="M1492.6 1610.7H1514M1503.3 1600V1621.4M1495.73 1603.13L1510.87 1618.27M1495.73 1618.27L1510.87 1603.13" stroke="#00fa9a" stroke-width="3.2" fill="none"/><path d="M1505.66 1497.9H1527.06M1516.36 1487.2V1508.6M1508.79 1490.33L1523.92 1505.47M1508.79 1505.47L1523.92 1490.33" stroke="#00fa9a" stroke-width="3.2" fill="none"/><path d="M1518.72 1519.1H1540.12M1529.42 1508.4V1529.8M1521.85 1511.53L1536.98 1526.67M1521.85 1526.67L1536.98 1511.53" stroke="#00fa9a" stroke-width="3.2" fill="none"/><path d="M1531.77 1487.3H1553.17M1542.47 1476.6V1498M1534.91 1479.73L1550.04 1494.87M1534.91 1494.87L1550.04 1479.73" stroke="#00fa9a" stroke-width="3.2" fill="none"/><path d="M1544.83 1513.4H1566.23M1555.53 1502.7V1524.1M1547.97 1505.83L1563.1 1520.97M1547.97 1520.97L1563.1 1505.83" stroke="#00fa9a" stroke-width="3.2" fill="none"/><path d="M1557.89 1486.4H1579.29M1568.59 1475.7V1497.1M1561.02 1478.83L1576.16 1493.97M1561.02 1493.97L1576.16 1478.83" stroke="#00fa9a" stroke-width="3.2" fill="none"/><path d="M1570.95 1524.1H1592.35M1581.65 1513.4V1534.8M1574.08 1516.53L1589.21 1531.67M1574.08 1531.67L1589.21 1516.53" stroke="#00fa9a" stroke-width="3.2" fill="none"/><path d="M1584.01 1509.2H1605.41M1594.71 1498.5V1519.9M1587.14 1501.63L1602.27 1516.77M1587.14 1516.77L1602.27 1501.63" stroke="#00fa9a" stroke-width="3.2" fill="none"/><path d="M1597.06 1480.9H1618.46M1607.76 1470.2V1491.6M1600.2 1473.33L1615.33 1488.47M1600.2 1488.47L1615.33 1473.33" stroke="#00fa9a" stroke-width="3.2" fill="none"/><path d="M1610.12 1506.4H1631.52M1620.82 1495.7V1517.1M1613.26 1498.83L1628.39 1513.97M1613.26 1513.97L1628.39 1498.83" stroke="#00fa9a" stroke-width="3.2" fill="none"/><path d="M1623.18 1537.3H1644.58M1633.88 1526.6V1548M1626.31 1529.73L1641.45 1544.87M1626.31 1544.87L1641.45 1529.73" stroke="#00fa9a" stroke-width="3.2" fill="none"/><path d="M1636.24 1555.4H1657.64M1646.94 1544.7V1566.1M1639.37 1547.83L1654.5 1562.97M1639.37 1562.97L1654.5 1547.83" stroke="#00fa9a" stroke-width="3.2" fill="none"/><path d="M1649.3 1444.3H1670.7M1660 1433.6V1455M1652.43 1436.73L1667.56 1451.87M1652.43 1451.87L1667.56 1436.73" stroke="#00fa9a" stroke-width="3.2" fill="none"/><path d="M1662.35 1494.8H1683.75M1673.05 1484.1V1505.5M1665.49 1487.23L1680.62 1502.37M1665.49 1502.37L1680.62 1487.23" stroke="#00fa9a" stroke-width="3.2" fill="none"/><path d="M1675.41 1534.7H1696.81M1686.11 1524V1545.4M1678.55 1527.13L1693.68 1542.27M1678.55 1542.27L1693.68 1527.13" stroke="#00fa9a" stroke-width="3.2" fill="none"/><path d="M1688.47 1557.4H1709.87M1699.17 1546.7V1568.1M1691.6 1549.83L1706.74 1564.97M1691.6 1564.97L1706.74 1549.83" stroke="#00fa9a" stroke-width="3.2" fill="none"/><path d="M1701.53 1548.8H1722.93M1712.23 1538.1V1559.5M1704.66 1541.23L1719.79 1556.37M1704.66 1556.37L1719.79 1541.23" stroke="#00fa9a" stroke-width="3.2" fill="none"/><path d="M1714.59 1569.7H1735.99M1725.29 1559V1580.4M1717.72 1562.13L1732.85 1577.27M1717.72 1577.27L1732.85 1562.13" stroke="#00fa9a" stroke-width="3.2" fill="none"/><path d="M1727.64 1579.4H1749.04M1738.34 1568.7V1590.1M1730.78 1571.83L1745.91 1586.97M1730.78 1586.97L1745.91 1571.83" stroke="#00fa9a" stroke-width="3.2" fill="none"/><path d="M1740.7 1538.6H1762.1M1751.4 1527.9V1549.3M1743.84 1531.03L1758.97 1546.17M1743.84 1546.17L1758.97 1531.03" stroke="#00fa9a" stroke-width="3.2" fill="none"/><path d="M1753.76 1550.4H1775.16M1764.46 1539.7V1561.1M1756.89 1542.83L1772.03 1557.97M1756.89 1557.97L1772.03 1542.83" stroke="#00fa9a" stroke-width="3.2" fill="none"/><path d="M1766.82 1491.2H1788.22M1777.52 1480.5V1501.9M1769.95 1483.63L1785.08 1498.77M1769.95 1498.77L1785.08 1483.63" stroke="#00fa9a" stroke-width="3.2" fill="none"/><path d="M1779.88 1505.6H1801.28M1790.58 1494.9V1516.3M1783.01 1498.03L1798.14 1513.17M1783.01 1513.17L1798.14 1498.03" stroke="#00fa9a" stroke-width="3.2" fill="none"/><path d="M1792.93 1455.1H1814.33M1803.63 1444.4V1465.8M1796.07 1447.53L1811.2 1462.67M1796.07 1462.67L1811.2 1447.53" stroke="#00fa9a" stroke-width="3.2" fill="none"/><path d="M1805.99 1520.5H1827.39M1816.69 1509.8V1531.2M1809.13 1512.93L1824.26 1528.07M1809.13 1528.07L1824.26 1512.93" stroke="#00fa9a" stroke-width="3.2" fill="none"/><path d="M1819.05 1567.7H1840.45M1829.75 1557V1578.4M1822.18 1560.13L1837.32 1575.27M1822.18 1575.27L1837.32 1560.13" stroke="#00fa9a" stroke-width="3.2" fill="none"/><path d="M1832.11 1389.6H1853.51M1842.81 1378.9V1400.3M1835.24 1382.03L1850.37 1397.17M1835.24 1397.17L1850.37 1382.03" stroke="#00fa9a" stroke-width="3.2" fill="none"/><path d="M1845.17 1513.5H1866.57M1855.87 1502.8V1524.2M1848.3 1505.93L1863.43 1521.07M1848.3 1521.07L1863.43 1505.93" stroke="#00fa9a" stroke-width="3.2" fill="none"/><path d="M1858.22 1492.3H1879.62M1868.92 1481.6V1503M1861.36 1484.73L1876.49 1499.87M1861.36 1499.87L1876.49 1484.73" stroke="#00fa9a" stroke-width="3.2" fill="none"/><path d="M1871.28 1502.5H1892.68M1881.98 1491.8V1513.2M1874.42 1494.93L1889.55 1510.07M1874.42 1510.07L1889.55 1494.93" stroke="#00fa9a" stroke-width="3.2" fill="none"/><path d="M1884.34 1487.6H1905.74M1895.04 1476.9V1498.3M1887.47 1480.03L1902.61 1495.17M1887.47 1495.17L1902.61 1480.03" stroke="#00fa9a" stroke-width="3.2" fill="none"/><path d="M1897.4 1495.4H1918.8M1908.1 1484.7V1506.1M1900.53 1487.83L1915.66 1502.97M1900.53 1502.97L1915.66 1487.83" stroke="#00fa9a" stroke-width="3.2" fill="none"/><path d="M1910.46 1486H1931.86M1921.16 1475.3V1496.7M1913.59 1478.43L1928.72 1493.57M1913.59 1493.57L1928.72 1478.43" stroke="#00fa9a" stroke-width="3.2" fill="none"/><path d="M1923.51 1486.8H1944.91M1934.21 1476.1V1497.5M1926.65 1479.23L1941.78 1494.37M1926.65 1494.37L1941.78 1479.23" stroke="#00fa9a" stroke-width="3.2" fill="none"/><path d="M1936.57 1467.9H1957.97M1947.27 1457.2V1478.6M1939.71 1460.33L1954.84 1475.47M1939.71 1475.47L1954.84 1460.33" stroke="#00fa9a" stroke-width="3.2" fill="none"/><path d="M1949.63 1472.7H1971.03M1960.33 1462V1483.4M1952.76 1465.13L1967.9 1480.27M1952.76 1480.27L1967.9 1465.13" stroke="#00fa9a" stroke-width="3.2" fill="none"/><path d="M1962.69 1518.2H1984.09M1973.39 1507.5V1528.9M1965.82 1510.63L1980.95 1525.77M1965.82 1525.77L1980.95 1510.63" stroke="#00fa9a" stroke-width="3.2" fill="none"/><path d="M1975.75 1491.8H1997.15M1986.45 1481.1V1502.5M1978.88 1484.23L1994.01 1499.37M1978.88 1499.37L1994.01 1484.23" stroke="#00fa9a" stroke-width="3.2" fill="none"/><path d="M1988.8 1456.2H2010.2M1999.5 1445.5V1466.9M1991.94 1448.63L2007.07 1463.77M1991.94 1463.77L2007.07 1448.63" stroke="#00fa9a" stroke-width="3.2" fill="none"/><path d="M2001.86 1356.7H2023.26M2012.56 1346V1367.4M2005 1349.13L2020.13 1364.27M2005 1364.27L2020.13 1349.13" stroke="#00fa9a" stroke-width="3.2" fill="none"/><path d="M2014.92 1283.6H2036.32M2025.62 1272.9V1294.3M2018.05 1276.03L2033.19 1291.17M2018.05 1291.17L2033.19 1276.03" stroke="#00fa9a" stroke-width="3.2" fill="none"/><path d="M2027.98 1278.1H2049.38M2038.68 1267.4V1288.8M2031.11 1270.53L2046.24 1285.67M2031.11 1285.67L2046.24 1270.53" stroke="#00fa9a" stroke-width="3.2" fill="none"/><path d="M2041.04 1295.4H2062.44M2051.74 1284.7V1306.1M2044.17 1287.83L2059.3 1302.97M2044.17 1302.97L2059.3 1287.83" stroke="#00fa9a" stroke-width="3.2" fill="none"/><path d="M2054.09 1314.3H2075.49M2064.79 1303.6V1325M2057.23 1306.73L2072.36 1321.87M2057.23 1321.87L2072.36 1306.73" stroke="#00fa9a" stroke-width="3.2" fill="none"/><path d="M2067.15 1257.7H2088.55M2077.85 1247V1268.4M2070.29 1250.13L2085.42 1265.27M2070.29 1265.27L2085.42 1250.13" stroke="#00fa9a" stroke-width="3.2" fill="none"/><path d="M2080.21 1277.4H2101.61M2090.91 1266.7V1288.1M2083.34 1269.83L2098.48 1284.97M2083.34 1284.97L2098.48 1269.83" stroke="#00fa9a" stroke-width="3.2" fill="none"/><path d="M2093.27 1285.2H2114.67M2103.97 1274.5V1295.9M2096.4 1277.63L2111.53 1292.77M2096.4 1292.77L2111.53 1277.63" stroke="#00fa9a" stroke-width="3.2" fill="none"/><path d="M2106.33 1286.8H2127.73M2117.03 1276.1V1297.5M2109.46 1279.23L2124.59 1294.37M2109.46 1294.37L2124.59 1279.23" stroke="#00fa9a" stroke-width="3.2" fill="none"/><path d="M2119.38 1269.5H2140.78M2130.08 1258.8V1280.2M2122.52 1261.93L2137.65 1277.07M2122.52 1277.07L2137.65 1261.93" stroke="#00fa9a" stroke-width="3.2" fill="none"/><path d="M2132.44 1283.6H2153.84M2143.14 1272.9V1294.3M2135.58 1276.03L2150.71 1291.17M2135.58 1291.17L2150.71 1276.03" stroke="#00fa9a" stroke-width="3.2" fill="none"/><path d="M2145.5 1273.9H2166.9M2156.2 1263.2V1284.6M2148.63 1266.33L2163.77 1281.47M2148.63 1281.47L2163.77 1266.33" stroke="#00fa9a" stroke-width="3.2" fill="none"/><path d="M2158.56 1251.5H2179.96M2169.26 1240.8V1262.2M2161.69 1243.93L2176.82 1259.07M2161.69 1259.07L2176.82 1243.93" stroke="#00fa9a" stroke-width="3.2" fill="none"/><path d="M2171.62 1239.8H2193.02M2182.32 1229.1V1250.5M2174.75 1232.23L2189.88 1247.37M2174.75 1247.37L2189.88 1232.23" stroke="#00fa9a" stroke-width="3.2" fill="none"/><path d="M2184.67 1249.4H2206.07M2195.37 1238.7V1260.1M2187.81 1241.83L2202.94 1256.97M2187.81 1256.97L2202.94 1241.83" stroke="#00fa9a" stroke-width="3.2" fill="none"/><path d="M2197.73 1214.3H2219.13M2208.43 1203.6V1225M2200.87 1206.73L2216 1221.87M2200.87 1221.87L2216 1206.73" stroke="#00fa9a" stroke-width="3.2" fill="none"/><path d="M2210.79 1188H2232.19M2221.49 1177.3V1198.7M2213.92 1180.43L2229.06 1195.57M2213.92 1195.57L2229.06 1180.43" stroke="#00fa9a" stroke-width="3.2" fill="none"/><path d="M2223.85 1174.2H2245.25M2234.55 1163.5V1184.9M2226.98 1166.63L2242.11 1181.77M2226.98 1181.77L2242.11 1166.63" stroke="#00fa9a" stroke-width="3.2" fill="none"/><path d="M2236.91 1119.6H2258.31M2247.61 1108.9V1130.3M2240.04 1112.03L2255.17 1127.17M2240.04 1127.17L2255.17 1112.03" stroke="#00fa9a" stroke-width="3.2" fill="none"/><path d="M2249.96 1126.3H2271.36M2260.66 1115.6V1137M2253.1 1118.73L2268.23 1133.87M2253.1 1133.87L2268.23 1118.73" stroke="#00fa9a" stroke-width="3.2" fill="none"/><path d="M2263.02 1103H2284.42M2273.72 1092.3V1113.7M2266.16 1095.43L2281.29 1110.57M2266.16 1110.57L2281.29 1095.43" stroke="#00fa9a" stroke-width="3.2" fill="none"/><path d="M2276.08 1100H2297.48M2286.78 1089.3V1110.7M2279.21 1092.43L2294.35 1107.57M2279.21 1107.57L2294.35 1092.43" stroke="#00fa9a" stroke-width="3.2" fill="none"/><path d="M2289.14 1090H2310.54M2299.84 1079.3V1100.7M2292.27 1082.43L2307.4 1097.57M2292.27 1097.57L2307.4 1082.43" stroke="#00fa9a" stroke-width="3.2" fill="none"/><path d="M2302.2 1077H2323.6M2312.9 1066.3V1087.7M2305.33 1069.43L2320.46 1084.57M2305.33 1084.57L2320.46 1069.43" stroke="#00fa9a" stroke-width="3.2" fill="none"/><path d="M2315.25 1062.8H2336.65M2325.95 1052.1V1073.5M2318.39 1055.23L2333.52 1070.37M2318.39 1070.37L2333.52 1055.23" stroke="#00fa9a" stroke-width="3.2" fill="none"/><path d="M2328.31 1098.7H2349.71M2339.01 1088V1109.4M2331.45 1091.13L2346.58 1106.27M2331.45 1106.27L2346.58 1091.13" stroke="#00fa9a" stroke-width="3.2" fill="none"/><path d="M2341.37 1108.7H2362.77M2352.07 1098V1119.4M2344.5 1101.13L2359.64 1116.27M2344.5 1116.27L2359.64 1101.13" stroke="#00fa9a" stroke-width="3.2" fill="none"/><path d="M2354.43 1093.7H2375.83M2365.13 1083V1104.4M2357.56 1086.13L2372.69 1101.27M2357.56 1101.27L2372.69 1086.13" stroke="#00fa9a" stroke-width="3.2" fill="none"/><path d="M2367.49 1116.7H2388.89M2378.19 1106V1127.4M2370.62 1109.13L2385.75 1124.27M2370.62 1124.27L2385.75 1109.13" stroke="#00fa9a" stroke-width="3.2" fill="none"/><path d="M2380.54 1147.3H2401.94M2391.24 1136.6V1158M2383.68 1139.73L2398.81 1154.87M2383.68 1154.87L2398.81 1139.73" stroke="#00fa9a" stroke-width="3.2" fill="none"/><path d="M2393.6 1212.1H2415M2404.3 1201.4V1222.8M2396.74 1204.53L2411.87 1219.67M2396.74 1219.67L2411.87 1204.53" stroke="#00fa9a" stroke-width="3.2" fill="none"/><path d="M2406.66 1226.1H2428.06M2417.36 1215.4V1236.8M2409.79 1218.53L2424.93 1233.67M2409.79 1233.67L2424.93 1218.53" stroke="#00fa9a" stroke-width="3.2" fill="none"/><path d="M2419.72 1230.9H2441.12M2430.42 1220.2V1241.6M2422.85 1223.33L2437.98 1238.47M2422.85 1238.47L2437.98 1223.33" stroke="#00fa9a" stroke-width="3.2" fill="none"/><path d="M2432.78 1298.5H2454.18M2443.48 1287.8V1309.2M2435.91 1290.93L2451.04 1306.07M2435.91 1306.07L2451.04 1290.93" stroke="#00fa9a" stroke-width="3.2" fill="none"/><path d="M2445.83 1323H2467.23M2456.53 1312.3V1333.7M2448.97 1315.43L2464.1 1330.57M2448.97 1330.57L2464.1 1315.43" stroke="#00fa9a" stroke-width="3.2" fill="none"/><path d="M2458.89 1418.5H2480.29M2469.59 1407.8V1429.2M2462.03 1410.93L2477.16 1426.07M2462.03 1426.07L2477.16 1410.93" stroke="#00fa9a" stroke-width="3.2" fill="none"/><path d="M2471.95 1360.1H2493.35M2482.65 1349.4V1370.8M2475.08 1352.53L2490.22 1367.67M2475.08 1367.67L2490.22 1352.53" stroke="#00fa9a" stroke-width="3.2" fill="none"/>
<path d="M1495.4 959.2V1613.3" stroke="#0000ff" stroke-width="4.5" fill="none"/>
<path d="M2409.9 959.2V1613.3" stroke="#ff0000" stroke-width="4.5" fill="none"/>
<rect x="1485.1" y="983.6" width="163.9" height="123.5" fill="#fff" stroke="#202020" stroke-width="1.95"/>
<path d="M1495.3 1006.8H1514.6M1518 1006.8H1547.5M1550.8 1006.8H1562.9" stroke="#aa00ff" stroke-width="4.17" fill="none"/>
<path d="M1518.4 1006.8H1539.8M1529.1 996.1V1017.5M1521.53 999.23L1536.67 1014.37M1521.53 1014.37L1536.67 999.23" stroke="#aa00ff" stroke-width="3.2" fill="none"/>
<text transform="translate(1566.4 1018.8)" font-size="30.5" fill="#000">Ball 1</text>
<path d="M1495.3 1045.5H1514.6M1518 1045.5H1547.5M1550.8 1045.5H1562.9" stroke="#ff0000" stroke-width="4.17" fill="none"/>
<path d="M1518.4 1045.5H1539.8M1529.1 1034.8V1056.2M1521.53 1037.93L1536.67 1053.07M1521.53 1053.07L1536.67 1037.93" stroke="#ff0000" stroke-width="3.2" fill="none"/>
<text transform="translate(1566.4 1057.5)" font-size="30.5" fill="#000">Ball 2</text>
<path d="M1495.3 1084.2H1514.6M1518 1084.2H1547.5M1550.8 1084.2H1562.9" stroke="#00fa9a" stroke-width="4.17" fill="none"/>
<path d="M1518.4 1084.2H1539.8M1529.1 1073.5V1094.9M1521.53 1076.63L1536.67 1091.77M1521.53 1091.77L1536.67 1076.63" stroke="#00fa9a" stroke-width="3.2" fill="none"/>
<text transform="translate(1566.4 1096.2)" font-size="30.5" fill="#000">Ball 3</text>
<text transform="translate(1339.6 931.8) scale(1 1.04)" font-size="46.9" font-weight="bold" fill="#000">D</text>
</g>
</svg></body></html>
